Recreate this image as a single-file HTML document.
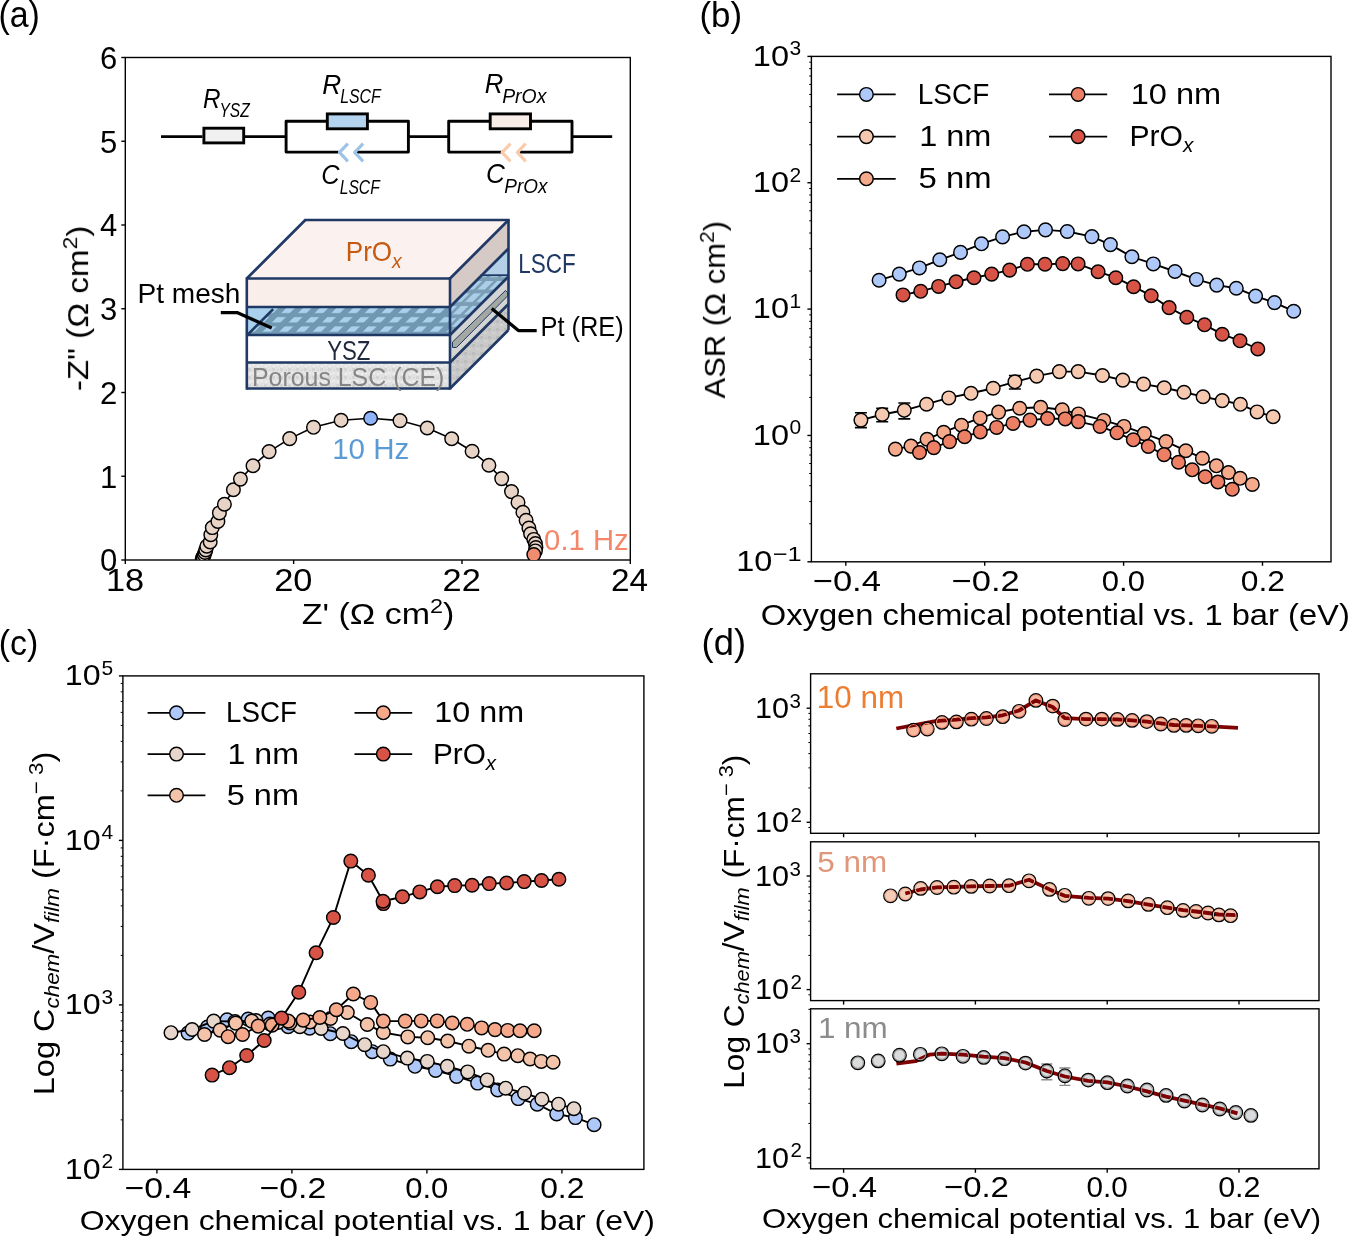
<!DOCTYPE html>
<html><head><meta charset="utf-8"><style>html,body{margin:0;padding:0;background:#fff;}svg{display:block;}</style></head>
<body><svg width="1348" height="1237" viewBox="0 0 1348 1237" font-family="Liberation Sans, sans-serif">
<rect width="1348" height="1237" fill="#fff"/>
<g style="opacity:0.999">
<text transform='translate(-1.59,26.50) scale(0.9425,1)' font-family='Liberation Sans, sans-serif' font-size='36' style='' font-weight='normal' fill='#000' >(a)</text>
<text transform='translate(699.46,26.60) scale(0.9700,1)' font-family='Liberation Sans, sans-serif' font-size='36' style='' font-weight='normal' fill='#000' >(b)</text>
<text transform='translate(-1.28,654.60) scale(0.9421,1)' font-family='Liberation Sans, sans-serif' font-size='36' style='' font-weight='normal' fill='#000' >(c)</text>
<text transform='translate(701.58,654.60) scale(1.0100,1)' font-family='Liberation Sans, sans-serif' font-size='36' style='' font-weight='normal' fill='#000' >(d)</text>
<defs><clipPath id='clipA'><rect x='125.3' y='57.5' width='505' height='502.5'/></clipPath></defs>
<rect x='125.3' y='57.5' width='505' height='502.5' fill='none' stroke='#000' stroke-width='1.4' />
<line x1='121.3' y1='560' x2='125.3' y2='560' stroke='#000' stroke-width='1.4' />
<text transform='translate(100.00,571.40) scale(1.0000,1)' font-family='Liberation Sans, sans-serif' font-size='31' style='' font-weight='normal' fill='#000' >0</text>
<line x1='121.3' y1='476.25' x2='125.3' y2='476.25' stroke='#000' stroke-width='1.4' />
<text transform='translate(100.00,487.65) scale(1.0000,1)' font-family='Liberation Sans, sans-serif' font-size='31' style='' font-weight='normal' fill='#000' >1</text>
<line x1='121.3' y1='392.5' x2='125.3' y2='392.5' stroke='#000' stroke-width='1.4' />
<text transform='translate(100.00,403.90) scale(1.0000,1)' font-family='Liberation Sans, sans-serif' font-size='31' style='' font-weight='normal' fill='#000' >2</text>
<line x1='121.3' y1='308.75' x2='125.3' y2='308.75' stroke='#000' stroke-width='1.4' />
<text transform='translate(100.00,320.15) scale(1.0000,1)' font-family='Liberation Sans, sans-serif' font-size='31' style='' font-weight='normal' fill='#000' >3</text>
<line x1='121.3' y1='225' x2='125.3' y2='225' stroke='#000' stroke-width='1.4' />
<text transform='translate(100.00,236.40) scale(1.0000,1)' font-family='Liberation Sans, sans-serif' font-size='31' style='' font-weight='normal' fill='#000' >4</text>
<line x1='121.3' y1='141.25' x2='125.3' y2='141.25' stroke='#000' stroke-width='1.4' />
<text transform='translate(100.00,152.65) scale(1.0000,1)' font-family='Liberation Sans, sans-serif' font-size='31' style='' font-weight='normal' fill='#000' >5</text>
<line x1='121.3' y1='57.5' x2='125.3' y2='57.5' stroke='#000' stroke-width='1.4' />
<text transform='translate(100.00,68.90) scale(1.0000,1)' font-family='Liberation Sans, sans-serif' font-size='31' style='' font-weight='normal' fill='#000' >6</text>
<line x1='125.3' y1='560' x2='125.3' y2='564' stroke='#000' stroke-width='1.4' />
<text transform='translate(105.88,590.50) scale(1.1097,1)' font-family='Liberation Sans, sans-serif' font-size='31' style='' font-weight='normal' fill='#000' >18</text>
<line x1='293.63' y1='560' x2='293.63' y2='564' stroke='#000' stroke-width='1.4' />
<text transform='translate(274.21,590.50) scale(1.1097,1)' font-family='Liberation Sans, sans-serif' font-size='31' style='' font-weight='normal' fill='#000' >20</text>
<line x1='461.97' y1='560' x2='461.97' y2='564' stroke='#000' stroke-width='1.4' />
<text transform='translate(442.55,590.50) scale(1.1097,1)' font-family='Liberation Sans, sans-serif' font-size='31' style='' font-weight='normal' fill='#000' >22</text>
<line x1='630.3' y1='560' x2='630.3' y2='564' stroke='#000' stroke-width='1.4' />
<text transform='translate(610.95,590.50) scale(1.0750,1)' font-family='Liberation Sans, sans-serif' font-size='31' style='' font-weight='normal' fill='#000' >24</text>
<text transform='translate(301.83,624.30) scale(1.1717,1)' font-family='Liberation Sans, sans-serif' font-size='29' style='' font-weight='normal' fill='#000' >Z' (&#937; cm<tspan dy='-11' font-size='20'>2</tspan><tspan dy='11'>)</tspan></text>
<text transform='translate(88.10,391.15) rotate(-90) scale(1.1458,1)' font-family='Liberation Sans, sans-serif' font-size='29' style='' font-weight='normal' fill='#000' >-Z" (&#937; cm<tspan dy='-11' font-size='20'>2</tspan><tspan dy='11'>)</tspan></text>
<line x1='161' y1='136.6' x2='202.5' y2='136.6' stroke='#000' stroke-width='2.9' />
<rect x='203.9' y='128.2' width='39.8' height='14.7' fill='#f0f0f0' stroke='#000' stroke-width='2.9' />
<line x1='245' y1='136.6' x2='286' y2='136.6' stroke='#000' stroke-width='2.9' />
<polyline points='327.3,121.2 286.1,121.2 286.1,152.1 338.6,152.1' fill='none' stroke='#000' stroke-width='2.9' stroke-linejoin='round' />
<polyline points='367.4,121.2 408.4,121.2 408.4,152.1 356.5,152.1' fill='none' stroke='#000' stroke-width='2.9' stroke-linejoin='round' />
<rect x='327.3' y='113.9' width='40.1' height='14.9' fill='#b4d3ee' stroke='#000' stroke-width='2.9' />
<polyline points='347.9,143.6 339.5,152.3 347.9,161.3' fill='none' stroke='#9dc3e6' stroke-width='3.2' stroke-linejoin='round' stroke-linejoin='miter'/>
<polyline points='363.1,143.6 354.7,152.3 363.1,161.3' fill='none' stroke='#9dc3e6' stroke-width='3.2' stroke-linejoin='round' stroke-linejoin='miter'/>
<line x1='408.4' y1='136.6' x2='448.7' y2='136.6' stroke='#000' stroke-width='2.9' />
<polyline points='490.2,121.2 448.7,121.2 448.7,152.1 501.6,152.1' fill='none' stroke='#000' stroke-width='2.9' stroke-linejoin='round' />
<polyline points='530.5,121.2 572,121.2 572,152.1 519.6,152.1' fill='none' stroke='#000' stroke-width='2.9' stroke-linejoin='round' />
<rect x='490.2' y='113.9' width='40.3' height='14.9' fill='#f9ede8' stroke='#000' stroke-width='2.9' />
<polyline points='510.5,143.6 502.1,152.3 510.5,161.3' fill='none' stroke='#f8cbad' stroke-width='3.2' stroke-linejoin='round' stroke-linejoin='miter'/>
<polyline points='525.7,143.6 517.3,152.3 525.7,161.3' fill='none' stroke='#f8cbad' stroke-width='3.2' stroke-linejoin='round' stroke-linejoin='miter'/>
<line x1='572' y1='136.6' x2='612.2' y2='136.6' stroke='#000' stroke-width='2.9' />
<text transform='translate(203.03,108.00) scale(0.8667,1)' font-family='Liberation Sans, sans-serif' font-size='28' style='font-style:italic;' font-weight='normal' fill='#000' >R</text>
<text transform='translate(219.44,117.00) scale(0.7789,1)' font-family='Liberation Sans, sans-serif' font-size='20' style='font-style:italic;' font-weight='normal' fill='#000' >YSZ</text>
<text transform='translate(322.16,93.70) scale(0.9389,1)' font-family='Liberation Sans, sans-serif' font-size='28' style='font-style:italic;' font-weight='normal' fill='#000' >R</text>
<text transform='translate(340.21,102.90) scale(0.7941,1)' font-family='Liberation Sans, sans-serif' font-size='20' style='font-style:italic;' font-weight='normal' fill='#000' >LSCF</text>
<text transform='translate(321.29,184.20) scale(0.9056,1)' font-family='Liberation Sans, sans-serif' font-size='28' style='font-style:italic;' font-weight='normal' fill='#000' >C</text>
<text transform='translate(339.72,193.90) scale(0.7824,1)' font-family='Liberation Sans, sans-serif' font-size='20' style='font-style:italic;' font-weight='normal' fill='#000' >LSCF</text>
<text transform='translate(484.68,93.20) scale(0.9167,1)' font-family='Liberation Sans, sans-serif' font-size='28' style='font-style:italic;' font-weight='normal' fill='#000' >R</text>
<text transform='translate(502.13,102.90) scale(0.9711,1)' font-family='Liberation Sans, sans-serif' font-size='20' style='font-style:italic;' font-weight='normal' fill='#000' >PrOx</text>
<text transform='translate(486.03,182.60) scale(0.9333,1)' font-family='Liberation Sans, sans-serif' font-size='28' style='font-style:italic;' font-weight='normal' fill='#000' >C</text>
<text transform='translate(504.25,192.80) scale(0.9467,1)' font-family='Liberation Sans, sans-serif' font-size='20' style='font-style:italic;' font-weight='normal' fill='#000' >PrOx</text>
<defs>
<pattern id='mesh' patternUnits='userSpaceOnUse' width='16.7' height='9.33' patternTransform='translate(3,307.4) skewX(-45)'>
<rect width='16.7' height='9.33' fill='#7099b1'/>
<rect x='0' y='0.3' width='8.6' height='5.4' fill='#a9d0ec'/>
</pattern>
<pattern id='meshS' patternUnits='userSpaceOnUse' width='11.3' height='12.4' patternTransform='translate(0,281) skewX(-45)'>
<rect width='11.3' height='12.4' fill='#7b9db5'/>
<rect x='0' y='0' width='7.6' height='8.6' fill='#aacde8'/>
</pattern>
<pattern id='noise' patternUnits='userSpaceOnUse' width='8' height='8'>
<rect width='8' height='8' fill='#e2e2e2'/>
<rect x='0' y='0' width='3' height='3' fill='#d4d4d4'/>
<rect x='4' y='4' width='3' height='2' fill='#ececec'/>
<rect x='5' y='1' width='2' height='2' fill='#d9d9d9'/>
<rect x='1' y='5' width='2' height='2' fill='#efefef'/>
</pattern>
<pattern id='noiseS' patternUnits='userSpaceOnUse' width='8' height='8'>
<rect width='8' height='8' fill='#c9c9c9'/>
<rect x='0' y='0' width='3' height='3' fill='#bcbcbc'/>
<rect x='4' y='4' width='3' height='2' fill='#d3d3d3'/>
<rect x='5' y='1' width='2' height='2' fill='#c2c2c2'/>
</pattern>
</defs>
<polygon points='246.8,278.5 305.3,220 508.5,220 450,278.5' fill='#fbf1ee' stroke='none' stroke-width='1' stroke-linejoin='miter' />
<rect x='246.8' y='278.5' width='203.2' height='28.5' fill='#f9eeea' stroke='none' stroke-width='1' />
<rect x='246.8' y='307' width='203.2' height='28' fill='url(#mesh)' stroke='none' stroke-width='1' />
<polygon points='246.8,307 273.8,307 246.8,335' fill='#a9d0ec' stroke='none' stroke-width='1' stroke-linejoin='miter' />
<rect x='246.8' y='335' width='203.2' height='27.5' fill='#ffffff' stroke='none' stroke-width='1' />
<rect x='246.8' y='362.5' width='203.2' height='26' fill='url(#noise)' stroke='none' stroke-width='1' />
<polygon points='450,278.5 508.5,220 508.5,248.5 450,307' fill='#d6cac7' stroke='none' stroke-width='1' stroke-linejoin='miter' />
<polygon points='450,307 508.5,248.5 508.5,276.5 450,335' fill='url(#meshS)' stroke='none' stroke-width='1' stroke-linejoin='miter' />
<polygon points='480.7,275.2 508.5,248.5 508.5,275.2' fill='#b4d0e8' stroke='none' stroke-width='1' stroke-linejoin='miter' />
<line x1='480.7' y1='275.2' x2='508.5' y2='275.2' stroke='#1f3864' stroke-width='1.8' />
<polygon points='450,335 508.5,276.5 508.5,304 450,362.5' fill='#d4d4d4' stroke='none' stroke-width='1' stroke-linejoin='miter' />
<polygon points='450,362.5 508.5,304 508.5,330 450,388.5' fill='url(#noiseS)' stroke='none' stroke-width='1' stroke-linejoin='miter' />
<polygon points='452.5,347.5 452.5,342 505.5,290.5 507.5,292.5 507.5,296 456.5,347.5' fill='#a3a8a3' stroke='#1f3864' stroke-width='1.0' stroke-linejoin='miter' />
<line x1='246.8' y1='278.5' x2='450' y2='278.5' stroke='#1f3864' stroke-width='2.6' />
<line x1='246.8' y1='307' x2='450' y2='307' stroke='#1f3864' stroke-width='2.6' />
<line x1='246.8' y1='335' x2='450' y2='335' stroke='#1f3864' stroke-width='2.6' />
<line x1='246.8' y1='362.5' x2='450' y2='362.5' stroke='#1f3864' stroke-width='2.6' />
<line x1='246.8' y1='388.5' x2='450' y2='388.5' stroke='#1f3864' stroke-width='2.6' />
<line x1='246.8' y1='277.3' x2='246.8' y2='389.7' stroke='#1f3864' stroke-width='2.6' />
<line x1='450' y1='277.3' x2='450' y2='389.7' stroke='#1f3864' stroke-width='2.6' />
<line x1='246.8' y1='278.5' x2='305.3' y2='220' stroke='#1f3864' stroke-width='2.6' />
<line x1='304.3' y1='220' x2='509.7' y2='220' stroke='#1f3864' stroke-width='2.6' />
<line x1='508.5' y1='220' x2='508.5' y2='330' stroke='#1f3864' stroke-width='2.6' />
<line x1='450' y1='278.5' x2='508.5' y2='220' stroke='#1f3864' stroke-width='2.6' />
<line x1='450' y1='307' x2='508.5' y2='248.5' stroke='#1f3864' stroke-width='2.6' />
<line x1='450' y1='335' x2='508.5' y2='276.5' stroke='#1f3864' stroke-width='2.6' />
<line x1='450' y1='362.5' x2='508.5' y2='304' stroke='#1f3864' stroke-width='2.6' />
<line x1='450' y1='388.5' x2='508.5' y2='330' stroke='#1f3864' stroke-width='2.6' />
<line x1='248.2' y1='334.2' x2='273.2' y2='309.2' stroke='#1f3864' stroke-width='2.6' />
<text transform='translate(345.77,261.00) scale(0.9643,1)' font-family='Liberation Sans, sans-serif' font-size='27' style='' font-weight='normal' fill='#c55a11' >PrO<tspan font-style='italic' font-size='20' dy='7'>x</tspan></text>
<text transform='translate(518.33,272.50) scale(0.8333,1)' font-family='Liberation Sans, sans-serif' font-size='27' style='' font-weight='normal' fill='#1f3864' >LSCF</text>
<text transform='translate(137.52,303.00) scale(1.0389,1)' font-family='Liberation Sans, sans-serif' font-size='27' style='' font-weight='normal' fill='#000' >Pt mesh</text>
<text transform='translate(540.42,335.60) scale(0.9424,1)' font-family='Liberation Sans, sans-serif' font-size='27' style='' font-weight='normal' fill='#000' >Pt (RE)</text>
<text transform='translate(327.18,359.70) scale(0.8235,1)' font-family='Liberation Sans, sans-serif' font-size='27' style='' font-weight='normal' fill='#1f2a3c' >YSZ</text>
<text transform='translate(251.91,385.80) scale(0.9968,1)' font-family='Liberation Sans, sans-serif' font-size='25' style='' font-weight='normal' fill='#858585' >Porous LSC (CE)</text>
<polyline points='220.8,312.7 237.6,312.7 271.7,328' fill='none' stroke='#000' stroke-width='3.3' stroke-linejoin='round' stroke-linejoin='miter'/>
<polyline points='491.7,308.4 518.4,330.6 536.7,330.6' fill='none' stroke='#000' stroke-width='3.3' stroke-linejoin='round' stroke-linejoin='miter'/>
<g clip-path='url(#clipA)'>
<polyline points='202.3,558.3 203.1,556.8 204.2,554.7 205,552.5 205.8,549.9 206.8,546.2 210.2,542 210.8,534.7 212.3,527.6 217.9,521.5 219.4,512.9 224.4,504.2 233.4,489.7 240.4,479.1 253,465.7 269.1,451.6 289.7,438.6 313.5,427.3 341.1,420.3 370.6,418.2 400,420.6 427.2,428 451.7,438.7 472.1,451.3 488.9,465.2 501.7,478.6 511.5,491.6 518,502.4 522.9,512.2 526.1,520.3 528.9,528 530.6,533.7 533.8,539.4 535.4,543.5 535.9,547.6 535.4,550.9 533.8,554.6' fill='none' stroke='#000' stroke-width='1.6' stroke-linejoin='round' />
<circle cx='202.3' cy='558.3' r='6.8' fill='#e8d4c7' stroke='#000' stroke-width='1.45' />
<circle cx='203.1' cy='556.8' r='6.8' fill='#e8d4c7' stroke='#000' stroke-width='1.45' />
<circle cx='204.2' cy='554.7' r='6.8' fill='#e8d4c7' stroke='#000' stroke-width='1.45' />
<circle cx='205' cy='552.5' r='6.8' fill='#e8d4c7' stroke='#000' stroke-width='1.45' />
<circle cx='205.8' cy='549.9' r='6.8' fill='#e8d4c7' stroke='#000' stroke-width='1.45' />
<circle cx='206.8' cy='546.2' r='6.8' fill='#e8d4c7' stroke='#000' stroke-width='1.45' />
<circle cx='210.2' cy='542' r='6.8' fill='#e8d4c7' stroke='#000' stroke-width='1.45' />
<circle cx='210.8' cy='534.7' r='6.8' fill='#e8d4c7' stroke='#000' stroke-width='1.45' />
<circle cx='212.3' cy='527.6' r='6.8' fill='#e8d4c7' stroke='#000' stroke-width='1.45' />
<circle cx='217.9' cy='521.5' r='6.8' fill='#e8d4c7' stroke='#000' stroke-width='1.45' />
<circle cx='219.4' cy='512.9' r='6.8' fill='#e8d4c7' stroke='#000' stroke-width='1.45' />
<circle cx='224.4' cy='504.2' r='6.8' fill='#e8d4c7' stroke='#000' stroke-width='1.45' />
<circle cx='233.4' cy='489.7' r='6.8' fill='#e8d4c7' stroke='#000' stroke-width='1.45' />
<circle cx='240.4' cy='479.1' r='6.8' fill='#e8d4c7' stroke='#000' stroke-width='1.45' />
<circle cx='253' cy='465.7' r='6.8' fill='#e8d4c7' stroke='#000' stroke-width='1.45' />
<circle cx='269.1' cy='451.6' r='6.8' fill='#e8d4c7' stroke='#000' stroke-width='1.45' />
<circle cx='289.7' cy='438.6' r='6.8' fill='#e8d4c7' stroke='#000' stroke-width='1.45' />
<circle cx='313.5' cy='427.3' r='6.8' fill='#e8d4c7' stroke='#000' stroke-width='1.45' />
<circle cx='341.1' cy='420.3' r='6.8' fill='#e8d4c7' stroke='#000' stroke-width='1.45' />
<circle cx='370.6' cy='418.2' r='6.8' fill='#8fb3f9' stroke='#000' stroke-width='1.45' />
<circle cx='400' cy='420.6' r='6.8' fill='#e8d4c7' stroke='#000' stroke-width='1.45' />
<circle cx='427.2' cy='428' r='6.8' fill='#e8d4c7' stroke='#000' stroke-width='1.45' />
<circle cx='451.7' cy='438.7' r='6.8' fill='#e8d4c7' stroke='#000' stroke-width='1.45' />
<circle cx='472.1' cy='451.3' r='6.8' fill='#e8d4c7' stroke='#000' stroke-width='1.45' />
<circle cx='488.9' cy='465.2' r='6.8' fill='#e8d4c7' stroke='#000' stroke-width='1.45' />
<circle cx='501.7' cy='478.6' r='6.8' fill='#e8d4c7' stroke='#000' stroke-width='1.45' />
<circle cx='511.5' cy='491.6' r='6.8' fill='#e8d4c7' stroke='#000' stroke-width='1.45' />
<circle cx='518' cy='502.4' r='6.8' fill='#e8d4c7' stroke='#000' stroke-width='1.45' />
<circle cx='522.9' cy='512.2' r='6.8' fill='#e8d4c7' stroke='#000' stroke-width='1.45' />
<circle cx='526.1' cy='520.3' r='6.8' fill='#e8d4c7' stroke='#000' stroke-width='1.45' />
<circle cx='528.9' cy='528' r='6.8' fill='#e8d4c7' stroke='#000' stroke-width='1.45' />
<circle cx='530.6' cy='533.7' r='6.8' fill='#e8d4c7' stroke='#000' stroke-width='1.45' />
<circle cx='533.8' cy='539.4' r='6.8' fill='#e8d4c7' stroke='#000' stroke-width='1.45' />
<circle cx='535.4' cy='543.5' r='6.8' fill='#e8d4c7' stroke='#000' stroke-width='1.45' />
<circle cx='535.9' cy='547.6' r='6.8' fill='#e8d4c7' stroke='#000' stroke-width='1.45' />
<circle cx='535.4' cy='550.9' r='6.8' fill='#e8d4c7' stroke='#000' stroke-width='1.45' />
<circle cx='533.8' cy='554.6' r='6.8' fill='#f08c70' stroke='#000' stroke-width='1.45' />
</g>
<text transform='translate(332.16,459.00) scale(1.0181,1)' font-family='Liberation Sans, sans-serif' font-size='29' style='' font-weight='normal' fill='#5b9bd5' >10 Hz</text>
<text transform='translate(544.12,550.30) scale(0.9750,1)' font-family='Liberation Sans, sans-serif' font-size='30' style='' font-weight='normal' fill='#f4876a' >0.1 Hz</text>
<defs><clipPath id='clipB'><rect x='811.4' y='56.4' width='519.6' height='505.4'/></clipPath></defs>
<line x1='807.4' y1='561.8' x2='811.4' y2='561.8' stroke='#000' stroke-width='1.4' />
<line x1='809.2' y1='523.76' x2='811.4' y2='523.76' stroke='#000' stroke-width='1.0' />
<line x1='809.2' y1='501.52' x2='811.4' y2='501.52' stroke='#000' stroke-width='1.0' />
<line x1='809.2' y1='485.73' x2='811.4' y2='485.73' stroke='#000' stroke-width='1.0' />
<line x1='809.2' y1='473.49' x2='811.4' y2='473.49' stroke='#000' stroke-width='1.0' />
<line x1='809.2' y1='463.48' x2='811.4' y2='463.48' stroke='#000' stroke-width='1.0' />
<line x1='809.2' y1='455.02' x2='811.4' y2='455.02' stroke='#000' stroke-width='1.0' />
<line x1='809.2' y1='447.69' x2='811.4' y2='447.69' stroke='#000' stroke-width='1.0' />
<line x1='809.2' y1='441.23' x2='811.4' y2='441.23' stroke='#000' stroke-width='1.0' />
<line x1='807.4' y1='435.45' x2='811.4' y2='435.45' stroke='#000' stroke-width='1.4' />
<line x1='809.2' y1='397.41' x2='811.4' y2='397.41' stroke='#000' stroke-width='1.0' />
<line x1='809.2' y1='375.17' x2='811.4' y2='375.17' stroke='#000' stroke-width='1.0' />
<line x1='809.2' y1='359.38' x2='811.4' y2='359.38' stroke='#000' stroke-width='1.0' />
<line x1='809.2' y1='347.14' x2='811.4' y2='347.14' stroke='#000' stroke-width='1.0' />
<line x1='809.2' y1='337.13' x2='811.4' y2='337.13' stroke='#000' stroke-width='1.0' />
<line x1='809.2' y1='328.67' x2='811.4' y2='328.67' stroke='#000' stroke-width='1.0' />
<line x1='809.2' y1='321.34' x2='811.4' y2='321.34' stroke='#000' stroke-width='1.0' />
<line x1='809.2' y1='314.88' x2='811.4' y2='314.88' stroke='#000' stroke-width='1.0' />
<line x1='807.4' y1='309.1' x2='811.4' y2='309.1' stroke='#000' stroke-width='1.4' />
<line x1='809.2' y1='271.06' x2='811.4' y2='271.06' stroke='#000' stroke-width='1.0' />
<line x1='809.2' y1='248.82' x2='811.4' y2='248.82' stroke='#000' stroke-width='1.0' />
<line x1='809.2' y1='233.03' x2='811.4' y2='233.03' stroke='#000' stroke-width='1.0' />
<line x1='809.2' y1='220.79' x2='811.4' y2='220.79' stroke='#000' stroke-width='1.0' />
<line x1='809.2' y1='210.78' x2='811.4' y2='210.78' stroke='#000' stroke-width='1.0' />
<line x1='809.2' y1='202.32' x2='811.4' y2='202.32' stroke='#000' stroke-width='1.0' />
<line x1='809.2' y1='194.99' x2='811.4' y2='194.99' stroke='#000' stroke-width='1.0' />
<line x1='809.2' y1='188.53' x2='811.4' y2='188.53' stroke='#000' stroke-width='1.0' />
<line x1='807.4' y1='182.75' x2='811.4' y2='182.75' stroke='#000' stroke-width='1.4' />
<line x1='809.2' y1='144.71' x2='811.4' y2='144.71' stroke='#000' stroke-width='1.0' />
<line x1='809.2' y1='122.47' x2='811.4' y2='122.47' stroke='#000' stroke-width='1.0' />
<line x1='809.2' y1='106.68' x2='811.4' y2='106.68' stroke='#000' stroke-width='1.0' />
<line x1='809.2' y1='94.44' x2='811.4' y2='94.44' stroke='#000' stroke-width='1.0' />
<line x1='809.2' y1='84.43' x2='811.4' y2='84.43' stroke='#000' stroke-width='1.0' />
<line x1='809.2' y1='75.97' x2='811.4' y2='75.97' stroke='#000' stroke-width='1.0' />
<line x1='809.2' y1='68.64' x2='811.4' y2='68.64' stroke='#000' stroke-width='1.0' />
<line x1='809.2' y1='62.18' x2='811.4' y2='62.18' stroke='#000' stroke-width='1.0' />
<line x1='807.4' y1='56.4' x2='811.4' y2='56.4' stroke='#000' stroke-width='1.4' />
<text transform='translate(736.14,570.80) scale(1.0800,1)' font-family='Liberation Sans, sans-serif' font-size='30' style='' font-weight='normal' fill='#000' >10</text>
<text transform='translate(772.79,560.50) scale(1.2091,1)' font-family='Liberation Sans, sans-serif' font-size='21' style='' font-weight='normal' fill='#000' >&#8722;1</text>
<text transform='translate(752.83,444.65) scale(1.0833,1)' font-family='Liberation Sans, sans-serif' font-size='30' style='' font-weight='normal' fill='#000' >10</text>
<text transform='translate(789.50,434.25) scale(1.0000,1)' font-family='Liberation Sans, sans-serif' font-size='21' style='' font-weight='normal' fill='#000' >0</text>
<text transform='translate(752.83,318.30) scale(1.0833,1)' font-family='Liberation Sans, sans-serif' font-size='30' style='' font-weight='normal' fill='#000' >10</text>
<text transform='translate(789.50,307.90) scale(1.0000,1)' font-family='Liberation Sans, sans-serif' font-size='21' style='' font-weight='normal' fill='#000' >1</text>
<text transform='translate(752.83,191.95) scale(1.0833,1)' font-family='Liberation Sans, sans-serif' font-size='30' style='' font-weight='normal' fill='#000' >10</text>
<text transform='translate(789.50,181.55) scale(1.0000,1)' font-family='Liberation Sans, sans-serif' font-size='21' style='' font-weight='normal' fill='#000' >2</text>
<text transform='translate(752.83,65.60) scale(1.0833,1)' font-family='Liberation Sans, sans-serif' font-size='30' style='' font-weight='normal' fill='#000' >10</text>
<text transform='translate(789.50,55.20) scale(1.0000,1)' font-family='Liberation Sans, sans-serif' font-size='21' style='' font-weight='normal' fill='#000' >3</text>
<line x1='845.8' y1='561.8' x2='845.8' y2='565.8' stroke='#000' stroke-width='1.4' />
<line x1='984.7' y1='561.8' x2='984.7' y2='565.8' stroke='#000' stroke-width='1.4' />
<line x1='1123.6' y1='561.8' x2='1123.6' y2='565.8' stroke='#000' stroke-width='1.4' />
<line x1='1262.5' y1='561.8' x2='1262.5' y2='565.8' stroke='#000' stroke-width='1.4' />
<text transform='translate(812.70,590.50) scale(1.1526,1)' font-family='Liberation Sans, sans-serif' font-size='30' style='' font-weight='normal' fill='#000' >&#8722;0.4</text>
<text transform='translate(951.60,590.50) scale(1.1526,1)' font-family='Liberation Sans, sans-serif' font-size='30' style='' font-weight='normal' fill='#000' >&#8722;0.2</text>
<text transform='translate(1101.86,590.50) scale(1.0350,1)' font-family='Liberation Sans, sans-serif' font-size='30' style='' font-weight='normal' fill='#000' >0.0</text>
<text transform='translate(1240.74,590.50) scale(1.0615,1)' font-family='Liberation Sans, sans-serif' font-size='30' style='' font-weight='normal' fill='#000' >0.2</text>
<text transform='translate(760.77,625.40) scale(1.1283,1)' font-family='Liberation Sans, sans-serif' font-size='29' style='' font-weight='normal' fill='#000' >Oxygen chemical potential vs. 1 bar (eV)</text>
<text transform='translate(724.90,398.50) rotate(-90) scale(1.0500,1)' font-family='Liberation Sans, sans-serif' font-size='29.5' style='' font-weight='normal' fill='#000' >ASR (&#937; cm<tspan dy='-11' font-size='20'>2</tspan><tspan dy='11'>)</tspan></text>
<g clip-path='url(#clipB)'>
<line x1='860.9' y1='412.8' x2='860.9' y2='427.6' stroke='#000' stroke-width='1.6' />
<line x1='854.9' y1='412.8' x2='866.9' y2='412.8' stroke='#000' stroke-width='1.6' />
<line x1='854.9' y1='427.6' x2='866.9' y2='427.6' stroke='#000' stroke-width='1.6' />
<line x1='882.2' y1='408.2' x2='882.2' y2='421.8' stroke='#000' stroke-width='1.6' />
<line x1='876.2' y1='408.2' x2='888.2' y2='408.2' stroke='#000' stroke-width='1.6' />
<line x1='876.2' y1='421.8' x2='888.2' y2='421.8' stroke='#000' stroke-width='1.6' />
<line x1='904.3' y1='403' x2='904.3' y2='418.9' stroke='#000' stroke-width='1.6' />
<line x1='898.3' y1='403' x2='910.3' y2='403' stroke='#000' stroke-width='1.6' />
<line x1='898.3' y1='418.9' x2='910.3' y2='418.9' stroke='#000' stroke-width='1.6' />
<line x1='1014.9' y1='375.5' x2='1014.9' y2='389' stroke='#000' stroke-width='1.6' />
<line x1='1008.9' y1='375.5' x2='1020.9' y2='375.5' stroke='#000' stroke-width='1.6' />
<line x1='1008.9' y1='389' x2='1020.9' y2='389' stroke='#000' stroke-width='1.6' />
<polyline points='860.9,420.1 882.2,414.5 904.3,410.3 926.6,404.2 948.8,397.9 971,393.3 993.2,388.2 1014.9,381.8 1036.7,376.1 1059.4,371.6 1078.2,371.6 1102.4,375.5 1122.8,380.1 1143.5,384.1 1164.2,387.8 1184,392.2 1203.1,396.7 1222.2,400.6 1240.4,404.3 1257.1,411.9 1273.1,416.7' fill='none' stroke='#000' stroke-width='1.9' stroke-linejoin='round' />
<circle cx='860.9' cy='420.1' r='6.8' fill='#f5c8af' stroke='#000' stroke-width='1.45' />
<circle cx='882.2' cy='414.5' r='6.8' fill='#f5c8af' stroke='#000' stroke-width='1.45' />
<circle cx='904.3' cy='410.3' r='6.8' fill='#f5c8af' stroke='#000' stroke-width='1.45' />
<circle cx='926.6' cy='404.2' r='6.8' fill='#f5c8af' stroke='#000' stroke-width='1.45' />
<circle cx='948.8' cy='397.9' r='6.8' fill='#f5c8af' stroke='#000' stroke-width='1.45' />
<circle cx='971' cy='393.3' r='6.8' fill='#f5c8af' stroke='#000' stroke-width='1.45' />
<circle cx='993.2' cy='388.2' r='6.8' fill='#f5c8af' stroke='#000' stroke-width='1.45' />
<circle cx='1014.9' cy='381.8' r='6.8' fill='#f5c8af' stroke='#000' stroke-width='1.45' />
<circle cx='1036.7' cy='376.1' r='6.8' fill='#f5c8af' stroke='#000' stroke-width='1.45' />
<circle cx='1059.4' cy='371.6' r='6.8' fill='#f5c8af' stroke='#000' stroke-width='1.45' />
<circle cx='1078.2' cy='371.6' r='6.8' fill='#f5c8af' stroke='#000' stroke-width='1.45' />
<circle cx='1102.4' cy='375.5' r='6.8' fill='#f5c8af' stroke='#000' stroke-width='1.45' />
<circle cx='1122.8' cy='380.1' r='6.8' fill='#f5c8af' stroke='#000' stroke-width='1.45' />
<circle cx='1143.5' cy='384.1' r='6.8' fill='#f5c8af' stroke='#000' stroke-width='1.45' />
<circle cx='1164.2' cy='387.8' r='6.8' fill='#f5c8af' stroke='#000' stroke-width='1.45' />
<circle cx='1184' cy='392.2' r='6.8' fill='#f5c8af' stroke='#000' stroke-width='1.45' />
<circle cx='1203.1' cy='396.7' r='6.8' fill='#f5c8af' stroke='#000' stroke-width='1.45' />
<circle cx='1222.2' cy='400.6' r='6.8' fill='#f5c8af' stroke='#000' stroke-width='1.45' />
<circle cx='1240.4' cy='404.3' r='6.8' fill='#f5c8af' stroke='#000' stroke-width='1.45' />
<circle cx='1257.1' cy='411.9' r='6.8' fill='#f5c8af' stroke='#000' stroke-width='1.45' />
<circle cx='1273.1' cy='416.7' r='6.8' fill='#f5c8af' stroke='#000' stroke-width='1.45' />
<polyline points='895.4,449.1 911,446.1 927.1,439.2 943.7,432.2 961.5,425.2 980.1,417.9 998.6,412.1 1019.7,408.2 1040.7,407.3 1062.2,409.7 1078.5,413.9 1103.8,420.4 1124,426.4 1144.3,433.6 1166,441.6 1185.8,450.7 1202.4,458.2 1216.4,465.8 1228.5,472.5 1240.1,478.3 1252.3,484.4' fill='none' stroke='#000' stroke-width='1.9' stroke-linejoin='round' />
<circle cx='895.4' cy='449.1' r='6.8' fill='#f6aa8c' stroke='#000' stroke-width='1.45' />
<circle cx='911' cy='446.1' r='6.8' fill='#f6aa8c' stroke='#000' stroke-width='1.45' />
<circle cx='927.1' cy='439.2' r='6.8' fill='#f6aa8c' stroke='#000' stroke-width='1.45' />
<circle cx='943.7' cy='432.2' r='6.8' fill='#f6aa8c' stroke='#000' stroke-width='1.45' />
<circle cx='961.5' cy='425.2' r='6.8' fill='#f6aa8c' stroke='#000' stroke-width='1.45' />
<circle cx='980.1' cy='417.9' r='6.8' fill='#f6aa8c' stroke='#000' stroke-width='1.45' />
<circle cx='998.6' cy='412.1' r='6.8' fill='#f6aa8c' stroke='#000' stroke-width='1.45' />
<circle cx='1019.7' cy='408.2' r='6.8' fill='#f6aa8c' stroke='#000' stroke-width='1.45' />
<circle cx='1040.7' cy='407.3' r='6.8' fill='#f6aa8c' stroke='#000' stroke-width='1.45' />
<circle cx='1062.2' cy='409.7' r='6.8' fill='#f6aa8c' stroke='#000' stroke-width='1.45' />
<circle cx='1078.5' cy='413.9' r='6.8' fill='#f6aa8c' stroke='#000' stroke-width='1.45' />
<circle cx='1103.8' cy='420.4' r='6.8' fill='#f6aa8c' stroke='#000' stroke-width='1.45' />
<circle cx='1124' cy='426.4' r='6.8' fill='#f6aa8c' stroke='#000' stroke-width='1.45' />
<circle cx='1144.3' cy='433.6' r='6.8' fill='#f6aa8c' stroke='#000' stroke-width='1.45' />
<circle cx='1166' cy='441.6' r='6.8' fill='#f6aa8c' stroke='#000' stroke-width='1.45' />
<circle cx='1185.8' cy='450.7' r='6.8' fill='#f6aa8c' stroke='#000' stroke-width='1.45' />
<circle cx='1202.4' cy='458.2' r='6.8' fill='#f6aa8c' stroke='#000' stroke-width='1.45' />
<circle cx='1216.4' cy='465.8' r='6.8' fill='#f6aa8c' stroke='#000' stroke-width='1.45' />
<circle cx='1228.5' cy='472.5' r='6.8' fill='#f6aa8c' stroke='#000' stroke-width='1.45' />
<circle cx='1240.1' cy='478.3' r='6.8' fill='#f6aa8c' stroke='#000' stroke-width='1.45' />
<circle cx='1252.3' cy='484.4' r='6.8' fill='#f6aa8c' stroke='#000' stroke-width='1.45' />
<polyline points='919.5,452.5 933.8,447.6 949.5,441.6 964.6,436.7 980.3,431.9 996.6,427.4 1013,423.4 1030,420.1 1047.6,418.5 1065.2,418.9 1078.3,421.6 1100.1,426.4 1117,432.8 1133.3,439.8 1148.3,446.5 1164,454.6 1178.5,462.2 1192.2,469.8 1205.2,476.8 1217.9,482 1232.3,489.3' fill='none' stroke='#000' stroke-width='1.9' stroke-linejoin='round' />
<circle cx='919.5' cy='452.5' r='6.8' fill='#ec7f64' stroke='#000' stroke-width='1.45' />
<circle cx='933.8' cy='447.6' r='6.8' fill='#ec7f64' stroke='#000' stroke-width='1.45' />
<circle cx='949.5' cy='441.6' r='6.8' fill='#ec7f64' stroke='#000' stroke-width='1.45' />
<circle cx='964.6' cy='436.7' r='6.8' fill='#ec7f64' stroke='#000' stroke-width='1.45' />
<circle cx='980.3' cy='431.9' r='6.8' fill='#ec7f64' stroke='#000' stroke-width='1.45' />
<circle cx='996.6' cy='427.4' r='6.8' fill='#ec7f64' stroke='#000' stroke-width='1.45' />
<circle cx='1013' cy='423.4' r='6.8' fill='#ec7f64' stroke='#000' stroke-width='1.45' />
<circle cx='1030' cy='420.1' r='6.8' fill='#ec7f64' stroke='#000' stroke-width='1.45' />
<circle cx='1047.6' cy='418.5' r='6.8' fill='#ec7f64' stroke='#000' stroke-width='1.45' />
<circle cx='1065.2' cy='418.9' r='6.8' fill='#ec7f64' stroke='#000' stroke-width='1.45' />
<circle cx='1078.3' cy='421.6' r='6.8' fill='#ec7f64' stroke='#000' stroke-width='1.45' />
<circle cx='1100.1' cy='426.4' r='6.8' fill='#ec7f64' stroke='#000' stroke-width='1.45' />
<circle cx='1117' cy='432.8' r='6.8' fill='#ec7f64' stroke='#000' stroke-width='1.45' />
<circle cx='1133.3' cy='439.8' r='6.8' fill='#ec7f64' stroke='#000' stroke-width='1.45' />
<circle cx='1148.3' cy='446.5' r='6.8' fill='#ec7f64' stroke='#000' stroke-width='1.45' />
<circle cx='1164' cy='454.6' r='6.8' fill='#ec7f64' stroke='#000' stroke-width='1.45' />
<circle cx='1178.5' cy='462.2' r='6.8' fill='#ec7f64' stroke='#000' stroke-width='1.45' />
<circle cx='1192.2' cy='469.8' r='6.8' fill='#ec7f64' stroke='#000' stroke-width='1.45' />
<circle cx='1205.2' cy='476.8' r='6.8' fill='#ec7f64' stroke='#000' stroke-width='1.45' />
<circle cx='1217.9' cy='482' r='6.8' fill='#ec7f64' stroke='#000' stroke-width='1.45' />
<circle cx='1232.3' cy='489.3' r='6.8' fill='#ec7f64' stroke='#000' stroke-width='1.45' />
<polyline points='879.1,280.2 899.3,274.1 919.4,267.9 939.8,259.8 960.5,252.4 981.5,243.8 1002.6,236.9 1024,231.7 1045.5,229.9 1067.3,231.5 1091.9,236.6 1110.4,244.6 1131.9,256.8 1153.3,263.9 1175,271.5 1196.4,279.4 1216.7,285.1 1236.3,288.2 1255.6,296.1 1274.5,302.6 1293.7,311.2' fill='none' stroke='#000' stroke-width='1.9' stroke-linejoin='round' />
<circle cx='879.1' cy='280.2' r='6.8' fill='#aec9f9' stroke='#000' stroke-width='1.45' />
<circle cx='899.3' cy='274.1' r='6.8' fill='#aec9f9' stroke='#000' stroke-width='1.45' />
<circle cx='919.4' cy='267.9' r='6.8' fill='#aec9f9' stroke='#000' stroke-width='1.45' />
<circle cx='939.8' cy='259.8' r='6.8' fill='#aec9f9' stroke='#000' stroke-width='1.45' />
<circle cx='960.5' cy='252.4' r='6.8' fill='#aec9f9' stroke='#000' stroke-width='1.45' />
<circle cx='981.5' cy='243.8' r='6.8' fill='#aec9f9' stroke='#000' stroke-width='1.45' />
<circle cx='1002.6' cy='236.9' r='6.8' fill='#aec9f9' stroke='#000' stroke-width='1.45' />
<circle cx='1024' cy='231.7' r='6.8' fill='#aec9f9' stroke='#000' stroke-width='1.45' />
<circle cx='1045.5' cy='229.9' r='6.8' fill='#aec9f9' stroke='#000' stroke-width='1.45' />
<circle cx='1067.3' cy='231.5' r='6.8' fill='#aec9f9' stroke='#000' stroke-width='1.45' />
<circle cx='1091.9' cy='236.6' r='6.8' fill='#aec9f9' stroke='#000' stroke-width='1.45' />
<circle cx='1110.4' cy='244.6' r='6.8' fill='#aec9f9' stroke='#000' stroke-width='1.45' />
<circle cx='1131.9' cy='256.8' r='6.8' fill='#aec9f9' stroke='#000' stroke-width='1.45' />
<circle cx='1153.3' cy='263.9' r='6.8' fill='#aec9f9' stroke='#000' stroke-width='1.45' />
<circle cx='1175' cy='271.5' r='6.8' fill='#aec9f9' stroke='#000' stroke-width='1.45' />
<circle cx='1196.4' cy='279.4' r='6.8' fill='#aec9f9' stroke='#000' stroke-width='1.45' />
<circle cx='1216.7' cy='285.1' r='6.8' fill='#aec9f9' stroke='#000' stroke-width='1.45' />
<circle cx='1236.3' cy='288.2' r='6.8' fill='#aec9f9' stroke='#000' stroke-width='1.45' />
<circle cx='1255.6' cy='296.1' r='6.8' fill='#aec9f9' stroke='#000' stroke-width='1.45' />
<circle cx='1274.5' cy='302.6' r='6.8' fill='#aec9f9' stroke='#000' stroke-width='1.45' />
<circle cx='1293.7' cy='311.2' r='6.8' fill='#aec9f9' stroke='#000' stroke-width='1.45' />
<polyline points='903,294.9 920.7,291.3 938.6,286.4 956.1,281.8 974,277.7 991.7,274.1 1009.6,270.1 1027.4,264.3 1045,264.2 1062.7,263.6 1078.1,263.9 1098.1,271.7 1115.8,277.7 1133.6,286.7 1151.2,295.7 1169.1,307.6 1186.8,317.2 1204.5,324.8 1222.2,334.2 1240,340.8 1257.8,349' fill='none' stroke='#000' stroke-width='1.9' stroke-linejoin='round' />
<circle cx='903' cy='294.9' r='6.8' fill='#d65345' stroke='#000' stroke-width='1.45' />
<circle cx='920.7' cy='291.3' r='6.8' fill='#d65345' stroke='#000' stroke-width='1.45' />
<circle cx='938.6' cy='286.4' r='6.8' fill='#d65345' stroke='#000' stroke-width='1.45' />
<circle cx='956.1' cy='281.8' r='6.8' fill='#d65345' stroke='#000' stroke-width='1.45' />
<circle cx='974' cy='277.7' r='6.8' fill='#d65345' stroke='#000' stroke-width='1.45' />
<circle cx='991.7' cy='274.1' r='6.8' fill='#d65345' stroke='#000' stroke-width='1.45' />
<circle cx='1009.6' cy='270.1' r='6.8' fill='#d65345' stroke='#000' stroke-width='1.45' />
<circle cx='1027.4' cy='264.3' r='6.8' fill='#d65345' stroke='#000' stroke-width='1.45' />
<circle cx='1045' cy='264.2' r='6.8' fill='#d65345' stroke='#000' stroke-width='1.45' />
<circle cx='1062.7' cy='263.6' r='6.8' fill='#d65345' stroke='#000' stroke-width='1.45' />
<circle cx='1078.1' cy='263.9' r='6.8' fill='#d65345' stroke='#000' stroke-width='1.45' />
<circle cx='1098.1' cy='271.7' r='6.8' fill='#d65345' stroke='#000' stroke-width='1.45' />
<circle cx='1115.8' cy='277.7' r='6.8' fill='#d65345' stroke='#000' stroke-width='1.45' />
<circle cx='1133.6' cy='286.7' r='6.8' fill='#d65345' stroke='#000' stroke-width='1.45' />
<circle cx='1151.2' cy='295.7' r='6.8' fill='#d65345' stroke='#000' stroke-width='1.45' />
<circle cx='1169.1' cy='307.6' r='6.8' fill='#d65345' stroke='#000' stroke-width='1.45' />
<circle cx='1186.8' cy='317.2' r='6.8' fill='#d65345' stroke='#000' stroke-width='1.45' />
<circle cx='1204.5' cy='324.8' r='6.8' fill='#d65345' stroke='#000' stroke-width='1.45' />
<circle cx='1222.2' cy='334.2' r='6.8' fill='#d65345' stroke='#000' stroke-width='1.45' />
<circle cx='1240' cy='340.8' r='6.8' fill='#d65345' stroke='#000' stroke-width='1.45' />
<circle cx='1257.8' cy='349' r='6.8' fill='#d65345' stroke='#000' stroke-width='1.45' />
</g>
<rect x='811.4' y='56.4' width='519.6' height='505.4' fill='none' stroke='#000' stroke-width='1.4' />
<line x1='837.1' y1='94.4' x2='895.7' y2='94.4' stroke='#000' stroke-width='1.8' />
<circle cx='866.4' cy='94.4' r='6.8' fill='#aec9f9' stroke='#000' stroke-width='1.45' />
<text transform='translate(917.77,103.90) scale(0.9648,1)' font-family='Liberation Sans, sans-serif' font-size='29' style='' font-weight='normal' fill='#000' >LSCF</text>
<line x1='837.1' y1='136.6' x2='895.7' y2='136.6' stroke='#000' stroke-width='1.8' />
<circle cx='866.4' cy='136.6' r='6.8' fill='#f5c8af' stroke='#000' stroke-width='1.45' />
<text transform='translate(919.26,146.10) scale(1.1197,1)' font-family='Liberation Sans, sans-serif' font-size='29' style='' font-weight='normal' fill='#000' >1 nm</text>
<line x1='837.1' y1='178.8' x2='895.7' y2='178.8' stroke='#000' stroke-width='1.8' />
<circle cx='866.4' cy='178.8' r='6.8' fill='#f6aa8c' stroke='#000' stroke-width='1.45' />
<text transform='translate(918.57,188.30) scale(1.1306,1)' font-family='Liberation Sans, sans-serif' font-size='29' style='' font-weight='normal' fill='#000' >5 nm</text>
<line x1='1049' y1='94.4' x2='1107.2' y2='94.4' stroke='#000' stroke-width='1.8' />
<circle cx='1078.1' cy='94.4' r='6.8' fill='#ec7f64' stroke='#000' stroke-width='1.45' />
<text transform='translate(1130.76,103.90) scale(1.1221,1)' font-family='Liberation Sans, sans-serif' font-size='29' style='' font-weight='normal' fill='#000' >10 nm</text>
<line x1='1049' y1='136.6' x2='1107.2' y2='136.6' stroke='#000' stroke-width='1.8' />
<circle cx='1078.1' cy='136.6' r='6.8' fill='#d65345' stroke='#000' stroke-width='1.45' />
<text transform='translate(1129.42,146.10) scale(1.0383,1)' font-family='Liberation Sans, sans-serif' font-size='29' style='' font-weight='normal' fill='#000' >PrO<tspan font-style='italic' font-size='20' dy='6'>x</tspan></text>
<defs><clipPath id='clipC'><rect x='122.9' y='675.9' width='521.0' height='493.5000000000001'/></clipPath></defs>
<line x1='118.9' y1='1169.4' x2='122.9' y2='1169.4' stroke='#000' stroke-width='1.4' />
<line x1='120.7' y1='1119.88' x2='122.9' y2='1119.88' stroke='#000' stroke-width='1.0' />
<line x1='120.7' y1='1090.91' x2='122.9' y2='1090.91' stroke='#000' stroke-width='1.0' />
<line x1='120.7' y1='1070.36' x2='122.9' y2='1070.36' stroke='#000' stroke-width='1.0' />
<line x1='120.7' y1='1054.42' x2='122.9' y2='1054.42' stroke='#000' stroke-width='1.0' />
<line x1='120.7' y1='1041.39' x2='122.9' y2='1041.39' stroke='#000' stroke-width='1.0' />
<line x1='120.7' y1='1030.38' x2='122.9' y2='1030.38' stroke='#000' stroke-width='1.0' />
<line x1='120.7' y1='1020.84' x2='122.9' y2='1020.84' stroke='#000' stroke-width='1.0' />
<line x1='120.7' y1='1012.43' x2='122.9' y2='1012.43' stroke='#000' stroke-width='1.0' />
<line x1='118.9' y1='1004.9' x2='122.9' y2='1004.9' stroke='#000' stroke-width='1.4' />
<line x1='120.7' y1='955.38' x2='122.9' y2='955.38' stroke='#000' stroke-width='1.0' />
<line x1='120.7' y1='926.41' x2='122.9' y2='926.41' stroke='#000' stroke-width='1.0' />
<line x1='120.7' y1='905.86' x2='122.9' y2='905.86' stroke='#000' stroke-width='1.0' />
<line x1='120.7' y1='889.92' x2='122.9' y2='889.92' stroke='#000' stroke-width='1.0' />
<line x1='120.7' y1='876.89' x2='122.9' y2='876.89' stroke='#000' stroke-width='1.0' />
<line x1='120.7' y1='865.88' x2='122.9' y2='865.88' stroke='#000' stroke-width='1.0' />
<line x1='120.7' y1='856.34' x2='122.9' y2='856.34' stroke='#000' stroke-width='1.0' />
<line x1='120.7' y1='847.93' x2='122.9' y2='847.93' stroke='#000' stroke-width='1.0' />
<line x1='118.9' y1='840.4' x2='122.9' y2='840.4' stroke='#000' stroke-width='1.4' />
<line x1='120.7' y1='790.88' x2='122.9' y2='790.88' stroke='#000' stroke-width='1.0' />
<line x1='120.7' y1='761.91' x2='122.9' y2='761.91' stroke='#000' stroke-width='1.0' />
<line x1='120.7' y1='741.36' x2='122.9' y2='741.36' stroke='#000' stroke-width='1.0' />
<line x1='120.7' y1='725.42' x2='122.9' y2='725.42' stroke='#000' stroke-width='1.0' />
<line x1='120.7' y1='712.39' x2='122.9' y2='712.39' stroke='#000' stroke-width='1.0' />
<line x1='120.7' y1='701.38' x2='122.9' y2='701.38' stroke='#000' stroke-width='1.0' />
<line x1='120.7' y1='691.84' x2='122.9' y2='691.84' stroke='#000' stroke-width='1.0' />
<line x1='120.7' y1='683.43' x2='122.9' y2='683.43' stroke='#000' stroke-width='1.0' />
<line x1='118.9' y1='675.9' x2='122.9' y2='675.9' stroke='#000' stroke-width='1.4' />
<text transform='translate(64.85,1178.70) scale(1.0733,1)' font-family='Liberation Sans, sans-serif' font-size='30' style='' font-weight='normal' fill='#000' >10</text>
<text transform='translate(101.50,1168.20) scale(1.0000,1)' font-family='Liberation Sans, sans-serif' font-size='21' style='' font-weight='normal' fill='#000' >2</text>
<text transform='translate(64.85,1014.20) scale(1.0733,1)' font-family='Liberation Sans, sans-serif' font-size='30' style='' font-weight='normal' fill='#000' >10</text>
<text transform='translate(101.50,1003.70) scale(1.0000,1)' font-family='Liberation Sans, sans-serif' font-size='21' style='' font-weight='normal' fill='#000' >3</text>
<text transform='translate(64.85,849.70) scale(1.0733,1)' font-family='Liberation Sans, sans-serif' font-size='30' style='' font-weight='normal' fill='#000' >10</text>
<text transform='translate(101.50,839.20) scale(1.0000,1)' font-family='Liberation Sans, sans-serif' font-size='21' style='' font-weight='normal' fill='#000' >4</text>
<text transform='translate(64.85,685.20) scale(1.0733,1)' font-family='Liberation Sans, sans-serif' font-size='30' style='' font-weight='normal' fill='#000' >10</text>
<text transform='translate(101.50,674.70) scale(1.0000,1)' font-family='Liberation Sans, sans-serif' font-size='21' style='' font-weight='normal' fill='#000' >5</text>
<line x1='156.9' y1='1169.4' x2='156.9' y2='1173.4' stroke='#000' stroke-width='1.4' />
<line x1='291.9' y1='1169.4' x2='291.9' y2='1173.4' stroke='#000' stroke-width='1.4' />
<line x1='426.9' y1='1169.4' x2='426.9' y2='1173.4' stroke='#000' stroke-width='1.4' />
<line x1='561.9' y1='1169.4' x2='561.9' y2='1173.4' stroke='#000' stroke-width='1.4' />
<text transform='translate(124.57,1198.10) scale(1.1263,1)' font-family='Liberation Sans, sans-serif' font-size='30' style='' font-weight='normal' fill='#000' >&#8722;0.4</text>
<text transform='translate(259.57,1198.10) scale(1.1263,1)' font-family='Liberation Sans, sans-serif' font-size='30' style='' font-weight='normal' fill='#000' >&#8722;0.2</text>
<text transform='translate(405.16,1198.10) scale(1.0350,1)' font-family='Liberation Sans, sans-serif' font-size='30' style='' font-weight='normal' fill='#000' >0.0</text>
<text transform='translate(540.14,1198.10) scale(1.0615,1)' font-family='Liberation Sans, sans-serif' font-size='30' style='' font-weight='normal' fill='#000' >0.2</text>
<text transform='translate(79.68,1230.20) scale(1.1211,1)' font-family='Liberation Sans, sans-serif' font-size='28.5' style='' font-weight='normal' fill='#000' >Oxygen chemical potential vs. 1 bar (eV)</text>
<text transform='translate(54.40,1095.24) rotate(-90) scale(1.1208,1)' font-family='Liberation Sans, sans-serif' font-size='29' style='' font-weight='normal' fill='#000' >Log C<tspan font-style='italic' font-size='20' dy='5'>chem</tspan><tspan dy='-5'>/V</tspan><tspan font-style='italic' font-size='20' dy='5'>film</tspan><tspan dy='-5'> (F&#183;cm</tspan><tspan font-size='20' dy='-11'>&#8722; 3</tspan><tspan dy='11'>)</tspan></text>
<g clip-path='url(#clipC)'>
<polyline points='188.1,1033.1 207.5,1027 227.1,1019.7 248.1,1019.1 268.2,1018.1 288.2,1026.7 309.6,1028.1 330.3,1033.7 351.3,1041.7 372.3,1051.7 390.3,1059.1 415,1066.3 435.6,1070.4 456.6,1076.4 477.6,1083.1 497.7,1089.9 518.2,1098.6 537.2,1104.2 556.7,1114 575.4,1117.6 594.1,1124.7' fill='none' stroke='#000' stroke-width='1.9' stroke-linejoin='round' />
<circle cx='188.1' cy='1033.1' r='6.8' fill='#aec9f9' stroke='#000' stroke-width='1.45' />
<circle cx='207.5' cy='1027' r='6.8' fill='#aec9f9' stroke='#000' stroke-width='1.45' />
<circle cx='227.1' cy='1019.7' r='6.8' fill='#aec9f9' stroke='#000' stroke-width='1.45' />
<circle cx='248.1' cy='1019.1' r='6.8' fill='#aec9f9' stroke='#000' stroke-width='1.45' />
<circle cx='268.2' cy='1018.1' r='6.8' fill='#aec9f9' stroke='#000' stroke-width='1.45' />
<circle cx='288.2' cy='1026.7' r='6.8' fill='#aec9f9' stroke='#000' stroke-width='1.45' />
<circle cx='309.6' cy='1028.1' r='6.8' fill='#aec9f9' stroke='#000' stroke-width='1.45' />
<circle cx='330.3' cy='1033.7' r='6.8' fill='#aec9f9' stroke='#000' stroke-width='1.45' />
<circle cx='351.3' cy='1041.7' r='6.8' fill='#aec9f9' stroke='#000' stroke-width='1.45' />
<circle cx='372.3' cy='1051.7' r='6.8' fill='#aec9f9' stroke='#000' stroke-width='1.45' />
<circle cx='390.3' cy='1059.1' r='6.8' fill='#aec9f9' stroke='#000' stroke-width='1.45' />
<circle cx='415' cy='1066.3' r='6.8' fill='#aec9f9' stroke='#000' stroke-width='1.45' />
<circle cx='435.6' cy='1070.4' r='6.8' fill='#aec9f9' stroke='#000' stroke-width='1.45' />
<circle cx='456.6' cy='1076.4' r='6.8' fill='#aec9f9' stroke='#000' stroke-width='1.45' />
<circle cx='477.6' cy='1083.1' r='6.8' fill='#aec9f9' stroke='#000' stroke-width='1.45' />
<circle cx='497.7' cy='1089.9' r='6.8' fill='#aec9f9' stroke='#000' stroke-width='1.45' />
<circle cx='518.2' cy='1098.6' r='6.8' fill='#aec9f9' stroke='#000' stroke-width='1.45' />
<circle cx='537.2' cy='1104.2' r='6.8' fill='#aec9f9' stroke='#000' stroke-width='1.45' />
<circle cx='556.7' cy='1114' r='6.8' fill='#aec9f9' stroke='#000' stroke-width='1.45' />
<circle cx='575.4' cy='1117.6' r='6.8' fill='#aec9f9' stroke='#000' stroke-width='1.45' />
<circle cx='594.1' cy='1124.7' r='6.8' fill='#aec9f9' stroke='#000' stroke-width='1.45' />
<polyline points='171,1032.7 192.1,1029.5 213.7,1021.1 235,1021.5 256,1020.5 278,1022.5 299.8,1026.7 321.2,1028.5 342.9,1033.5 364.7,1044.7 383.3,1051.7 407.3,1058.1 427.3,1061.4 447.3,1066.3 467.7,1071.9 487.1,1079.9 505.7,1088.2 524.5,1093.2 541.9,1099.2 558.5,1104.2 573.9,1108.7' fill='none' stroke='#000' stroke-width='1.9' stroke-linejoin='round' />
<circle cx='171' cy='1032.7' r='6.8' fill='#e6d6cc' stroke='#000' stroke-width='1.45' />
<circle cx='192.1' cy='1029.5' r='6.8' fill='#e6d6cc' stroke='#000' stroke-width='1.45' />
<circle cx='213.7' cy='1021.1' r='6.8' fill='#e6d6cc' stroke='#000' stroke-width='1.45' />
<circle cx='235' cy='1021.5' r='6.8' fill='#e6d6cc' stroke='#000' stroke-width='1.45' />
<circle cx='256' cy='1020.5' r='6.8' fill='#e6d6cc' stroke='#000' stroke-width='1.45' />
<circle cx='278' cy='1022.5' r='6.8' fill='#e6d6cc' stroke='#000' stroke-width='1.45' />
<circle cx='299.8' cy='1026.7' r='6.8' fill='#e6d6cc' stroke='#000' stroke-width='1.45' />
<circle cx='321.2' cy='1028.5' r='6.8' fill='#e6d6cc' stroke='#000' stroke-width='1.45' />
<circle cx='342.9' cy='1033.5' r='6.8' fill='#e6d6cc' stroke='#000' stroke-width='1.45' />
<circle cx='364.7' cy='1044.7' r='6.8' fill='#e6d6cc' stroke='#000' stroke-width='1.45' />
<circle cx='383.3' cy='1051.7' r='6.8' fill='#e6d6cc' stroke='#000' stroke-width='1.45' />
<circle cx='407.3' cy='1058.1' r='6.8' fill='#e6d6cc' stroke='#000' stroke-width='1.45' />
<circle cx='427.3' cy='1061.4' r='6.8' fill='#e6d6cc' stroke='#000' stroke-width='1.45' />
<circle cx='447.3' cy='1066.3' r='6.8' fill='#e6d6cc' stroke='#000' stroke-width='1.45' />
<circle cx='467.7' cy='1071.9' r='6.8' fill='#e6d6cc' stroke='#000' stroke-width='1.45' />
<circle cx='487.1' cy='1079.9' r='6.8' fill='#e6d6cc' stroke='#000' stroke-width='1.45' />
<circle cx='505.7' cy='1088.2' r='6.8' fill='#e6d6cc' stroke='#000' stroke-width='1.45' />
<circle cx='524.5' cy='1093.2' r='6.8' fill='#e6d6cc' stroke='#000' stroke-width='1.45' />
<circle cx='541.9' cy='1099.2' r='6.8' fill='#e6d6cc' stroke='#000' stroke-width='1.45' />
<circle cx='558.5' cy='1104.2' r='6.8' fill='#e6d6cc' stroke='#000' stroke-width='1.45' />
<circle cx='573.9' cy='1108.7' r='6.8' fill='#e6d6cc' stroke='#000' stroke-width='1.45' />
<polyline points='204.5,1034.5 220.1,1030.1 235.7,1023.1 251.7,1021.1 270,1024 290,1023 310,1022 330.5,1018.5 347.3,1012.5 367.3,1024.5 383.3,1032.5 407.8,1036.9 427.7,1037.7 447.7,1041 468.9,1046.2 488.1,1050.3 504.1,1054.1 517.8,1055.7 530.1,1059 541.2,1061.4 553.1,1062.2' fill='none' stroke='#000' stroke-width='1.9' stroke-linejoin='round' />
<circle cx='204.5' cy='1034.5' r='6.8' fill='#f4c4aa' stroke='#000' stroke-width='1.45' />
<circle cx='220.1' cy='1030.1' r='6.8' fill='#f4c4aa' stroke='#000' stroke-width='1.45' />
<circle cx='235.7' cy='1023.1' r='6.8' fill='#f4c4aa' stroke='#000' stroke-width='1.45' />
<circle cx='251.7' cy='1021.1' r='6.8' fill='#f4c4aa' stroke='#000' stroke-width='1.45' />
<circle cx='270' cy='1024' r='6.8' fill='#f4c4aa' stroke='#000' stroke-width='1.45' />
<circle cx='290' cy='1023' r='6.8' fill='#f4c4aa' stroke='#000' stroke-width='1.45' />
<circle cx='310' cy='1022' r='6.8' fill='#f4c4aa' stroke='#000' stroke-width='1.45' />
<circle cx='330.5' cy='1018.5' r='6.8' fill='#f4c4aa' stroke='#000' stroke-width='1.45' />
<circle cx='347.3' cy='1012.5' r='6.8' fill='#f4c4aa' stroke='#000' stroke-width='1.45' />
<circle cx='367.3' cy='1024.5' r='6.8' fill='#f4c4aa' stroke='#000' stroke-width='1.45' />
<circle cx='383.3' cy='1032.5' r='6.8' fill='#f4c4aa' stroke='#000' stroke-width='1.45' />
<circle cx='407.8' cy='1036.9' r='6.8' fill='#f4c4aa' stroke='#000' stroke-width='1.45' />
<circle cx='427.7' cy='1037.7' r='6.8' fill='#f4c4aa' stroke='#000' stroke-width='1.45' />
<circle cx='447.7' cy='1041' r='6.8' fill='#f4c4aa' stroke='#000' stroke-width='1.45' />
<circle cx='468.9' cy='1046.2' r='6.8' fill='#f4c4aa' stroke='#000' stroke-width='1.45' />
<circle cx='488.1' cy='1050.3' r='6.8' fill='#f4c4aa' stroke='#000' stroke-width='1.45' />
<circle cx='504.1' cy='1054.1' r='6.8' fill='#f4c4aa' stroke='#000' stroke-width='1.45' />
<circle cx='517.8' cy='1055.7' r='6.8' fill='#f4c4aa' stroke='#000' stroke-width='1.45' />
<circle cx='530.1' cy='1059' r='6.8' fill='#f4c4aa' stroke='#000' stroke-width='1.45' />
<circle cx='541.2' cy='1061.4' r='6.8' fill='#f4c4aa' stroke='#000' stroke-width='1.45' />
<circle cx='553.1' cy='1062.2' r='6.8' fill='#f4c4aa' stroke='#000' stroke-width='1.45' />
<polyline points='228.1,1036.7 242.5,1034.5 258.2,1026.1 272.2,1025.1 288.2,1021.1 303.2,1020.1 319.8,1017.5 336.3,1009.7 353.3,994 370.7,1002.4 383.3,1021.1 405.2,1021.1 421.2,1020.9 437.2,1020.9 452.2,1023 467.2,1024.3 481.6,1027.9 495,1029.6 507.7,1030.4 520,1030.7 534.2,1030.7' fill='none' stroke='#000' stroke-width='1.9' stroke-linejoin='round' />
<circle cx='228.1' cy='1036.7' r='6.8' fill='#f5a98a' stroke='#000' stroke-width='1.45' />
<circle cx='242.5' cy='1034.5' r='6.8' fill='#f5a98a' stroke='#000' stroke-width='1.45' />
<circle cx='258.2' cy='1026.1' r='6.8' fill='#f5a98a' stroke='#000' stroke-width='1.45' />
<circle cx='272.2' cy='1025.1' r='6.8' fill='#f5a98a' stroke='#000' stroke-width='1.45' />
<circle cx='288.2' cy='1021.1' r='6.8' fill='#f5a98a' stroke='#000' stroke-width='1.45' />
<circle cx='303.2' cy='1020.1' r='6.8' fill='#f5a98a' stroke='#000' stroke-width='1.45' />
<circle cx='319.8' cy='1017.5' r='6.8' fill='#f5a98a' stroke='#000' stroke-width='1.45' />
<circle cx='336.3' cy='1009.7' r='6.8' fill='#f5a98a' stroke='#000' stroke-width='1.45' />
<circle cx='353.3' cy='994' r='6.8' fill='#f5a98a' stroke='#000' stroke-width='1.45' />
<circle cx='370.7' cy='1002.4' r='6.8' fill='#f5a98a' stroke='#000' stroke-width='1.45' />
<circle cx='383.3' cy='1021.1' r='6.8' fill='#f5a98a' stroke='#000' stroke-width='1.45' />
<circle cx='405.2' cy='1021.1' r='6.8' fill='#f5a98a' stroke='#000' stroke-width='1.45' />
<circle cx='421.2' cy='1020.9' r='6.8' fill='#f5a98a' stroke='#000' stroke-width='1.45' />
<circle cx='437.2' cy='1020.9' r='6.8' fill='#f5a98a' stroke='#000' stroke-width='1.45' />
<circle cx='452.2' cy='1023' r='6.8' fill='#f5a98a' stroke='#000' stroke-width='1.45' />
<circle cx='467.2' cy='1024.3' r='6.8' fill='#f5a98a' stroke='#000' stroke-width='1.45' />
<circle cx='481.6' cy='1027.9' r='6.8' fill='#f5a98a' stroke='#000' stroke-width='1.45' />
<circle cx='495' cy='1029.6' r='6.8' fill='#f5a98a' stroke='#000' stroke-width='1.45' />
<circle cx='507.7' cy='1030.4' r='6.8' fill='#f5a98a' stroke='#000' stroke-width='1.45' />
<circle cx='520' cy='1030.7' r='6.8' fill='#f5a98a' stroke='#000' stroke-width='1.45' />
<circle cx='534.2' cy='1030.7' r='6.8' fill='#f5a98a' stroke='#000' stroke-width='1.45' />
<circle cx='383.4' cy='903.6' r='6.8' fill='#d65345' stroke='#000' stroke-width='1.45' />
<polyline points='212.1,1075.1 229.5,1067.7 246.7,1055.5 264.2,1040.5 281.6,1018.1 298.8,992.2 316.1,952.8 333.4,917.5 350.8,861.1 368.4,875.2 383,901.2 402.4,896.8 419.8,891.9 437.4,886.7 454.7,885.6 472.1,885.2 489.2,883.6 506.6,883 524.2,881.6 541.5,880.5 558.9,879.2' fill='none' stroke='#000' stroke-width='1.9' stroke-linejoin='round' />
<circle cx='212.1' cy='1075.1' r='6.8' fill='#d65345' stroke='#000' stroke-width='1.45' />
<circle cx='229.5' cy='1067.7' r='6.8' fill='#d65345' stroke='#000' stroke-width='1.45' />
<circle cx='246.7' cy='1055.5' r='6.8' fill='#d65345' stroke='#000' stroke-width='1.45' />
<circle cx='264.2' cy='1040.5' r='6.8' fill='#d65345' stroke='#000' stroke-width='1.45' />
<circle cx='281.6' cy='1018.1' r='6.8' fill='#d65345' stroke='#000' stroke-width='1.45' />
<circle cx='298.8' cy='992.2' r='6.8' fill='#d65345' stroke='#000' stroke-width='1.45' />
<circle cx='316.1' cy='952.8' r='6.8' fill='#d65345' stroke='#000' stroke-width='1.45' />
<circle cx='333.4' cy='917.5' r='6.8' fill='#d65345' stroke='#000' stroke-width='1.45' />
<circle cx='350.8' cy='861.1' r='6.8' fill='#d65345' stroke='#000' stroke-width='1.45' />
<circle cx='368.4' cy='875.2' r='6.8' fill='#d65345' stroke='#000' stroke-width='1.45' />
<circle cx='383' cy='901.2' r='6.8' fill='#d65345' stroke='#000' stroke-width='1.45' />
<circle cx='402.4' cy='896.8' r='6.8' fill='#d65345' stroke='#000' stroke-width='1.45' />
<circle cx='419.8' cy='891.9' r='6.8' fill='#d65345' stroke='#000' stroke-width='1.45' />
<circle cx='437.4' cy='886.7' r='6.8' fill='#d65345' stroke='#000' stroke-width='1.45' />
<circle cx='454.7' cy='885.6' r='6.8' fill='#d65345' stroke='#000' stroke-width='1.45' />
<circle cx='472.1' cy='885.2' r='6.8' fill='#d65345' stroke='#000' stroke-width='1.45' />
<circle cx='489.2' cy='883.6' r='6.8' fill='#d65345' stroke='#000' stroke-width='1.45' />
<circle cx='506.6' cy='883' r='6.8' fill='#d65345' stroke='#000' stroke-width='1.45' />
<circle cx='524.2' cy='881.6' r='6.8' fill='#d65345' stroke='#000' stroke-width='1.45' />
<circle cx='541.5' cy='880.5' r='6.8' fill='#d65345' stroke='#000' stroke-width='1.45' />
<circle cx='558.9' cy='879.2' r='6.8' fill='#d65345' stroke='#000' stroke-width='1.45' />
</g>
<rect x='122.9' y='675.9' width='521' height='493.5' fill='none' stroke='#000' stroke-width='1.4' />
<line x1='147.6' y1='712.8' x2='205.4' y2='712.8' stroke='#000' stroke-width='1.8' />
<circle cx='176.5' cy='712.8' r='6.8' fill='#aec9f9' stroke='#000' stroke-width='1.45' />
<text transform='translate(225.99,722.30) scale(0.9563,1)' font-family='Liberation Sans, sans-serif' font-size='29' style='' font-weight='normal' fill='#000' >LSCF</text>
<line x1='147.6' y1='754.1' x2='205.4' y2='754.1' stroke='#000' stroke-width='1.8' />
<circle cx='176.5' cy='754.1' r='6.8' fill='#e6d6cc' stroke='#000' stroke-width='1.45' />
<text transform='translate(227.48,763.60) scale(1.1082,1)' font-family='Liberation Sans, sans-serif' font-size='29' style='' font-weight='normal' fill='#000' >1 nm</text>
<line x1='147.6' y1='795.3' x2='205.4' y2='795.3' stroke='#000' stroke-width='1.8' />
<circle cx='176.5' cy='795.3' r='6.8' fill='#f4c4aa' stroke='#000' stroke-width='1.45' />
<text transform='translate(226.78,804.80) scale(1.1194,1)' font-family='Liberation Sans, sans-serif' font-size='29' style='' font-weight='normal' fill='#000' >5 nm</text>
<line x1='354.5' y1='712.8' x2='412.2' y2='712.8' stroke='#000' stroke-width='1.8' />
<circle cx='383.3' cy='712.8' r='6.8' fill='#f5a98a' stroke='#000' stroke-width='1.45' />
<text transform='translate(434.27,722.30) scale(1.1143,1)' font-family='Liberation Sans, sans-serif' font-size='29' style='' font-weight='normal' fill='#000' >10 nm</text>
<line x1='354.5' y1='754.1' x2='412.2' y2='754.1' stroke='#000' stroke-width='1.8' />
<circle cx='383.3' cy='754.1' r='6.8' fill='#d65345' stroke='#000' stroke-width='1.45' />
<text transform='translate(432.95,763.60) scale(1.0250,1)' font-family='Liberation Sans, sans-serif' font-size='29' style='' font-weight='normal' fill='#000' >PrO<tspan font-style='italic' font-size='20' dy='6'>x</tspan></text>
<defs><clipPath id='clipD0'><rect x='810.6' y='673.8' width='508.4' height='159.5'/></clipPath></defs>
<line x1='806.6' y1='708.2' x2='810.6' y2='708.2' stroke='#000' stroke-width='1.4' />
<line x1='806.6' y1='822.3' x2='810.6' y2='822.3' stroke='#000' stroke-width='1.4' />
<line x1='808.4' y1='787.95' x2='810.6' y2='787.95' stroke='#000' stroke-width='1.0' />
<line x1='808.4' y1='767.86' x2='810.6' y2='767.86' stroke='#000' stroke-width='1.0' />
<line x1='808.4' y1='753.6' x2='810.6' y2='753.6' stroke='#000' stroke-width='1.0' />
<line x1='808.4' y1='742.55' x2='810.6' y2='742.55' stroke='#000' stroke-width='1.0' />
<line x1='808.4' y1='733.51' x2='810.6' y2='733.51' stroke='#000' stroke-width='1.0' />
<line x1='808.4' y1='725.87' x2='810.6' y2='725.87' stroke='#000' stroke-width='1.0' />
<line x1='808.4' y1='719.26' x2='810.6' y2='719.26' stroke='#000' stroke-width='1.0' />
<line x1='808.4' y1='713.42' x2='810.6' y2='713.42' stroke='#000' stroke-width='1.0' />
<line x1='808.4' y1='827.52' x2='810.6' y2='827.52' stroke='#000' stroke-width='1.0' />
<text transform='translate(755.09,717.90) scale(1.0552,1)' font-family='Liberation Sans, sans-serif' font-size='29' style='' font-weight='normal' fill='#000' >10</text>
<text transform='translate(789.60,707.80) scale(1.0000,1)' font-family='Liberation Sans, sans-serif' font-size='20.5' style='' font-weight='normal' fill='#000' >3</text>
<text transform='translate(755.09,832.00) scale(1.0552,1)' font-family='Liberation Sans, sans-serif' font-size='29' style='' font-weight='normal' fill='#000' >10</text>
<text transform='translate(790.60,821.90) scale(1.0000,1)' font-family='Liberation Sans, sans-serif' font-size='20.5' style='' font-weight='normal' fill='#000' >2</text>
<line x1='843.6' y1='833.3' x2='843.6' y2='837.3' stroke='#000' stroke-width='1.4' />
<line x1='975.4' y1='833.3' x2='975.4' y2='837.3' stroke='#000' stroke-width='1.4' />
<line x1='1107.2' y1='833.3' x2='1107.2' y2='837.3' stroke='#000' stroke-width='1.4' />
<line x1='1239' y1='833.3' x2='1239' y2='837.3' stroke='#000' stroke-width='1.4' />
<g clip-path='url(#clipD0)'>
<circle cx='913.5' cy='730.1' r='6.4' fill='#f6b9a0' stroke='none' stroke-width='0' />
<circle cx='927.3' cy='729' r='6.4' fill='#f6b9a0' stroke='none' stroke-width='0' />
<circle cx='942' cy='722.4' r='6.4' fill='#f6b9a0' stroke='none' stroke-width='0' />
<circle cx='956.4' cy='721.9' r='6.4' fill='#f6b9a0' stroke='none' stroke-width='0' />
<circle cx='971.4' cy='719.2' r='6.4' fill='#f6b9a0' stroke='none' stroke-width='0' />
<circle cx='986.4' cy='718.5' r='6.4' fill='#f6b9a0' stroke='none' stroke-width='0' />
<circle cx='1002.7' cy='716.7' r='6.4' fill='#f6b9a0' stroke='none' stroke-width='0' />
<circle cx='1019.1' cy='711.3' r='6.4' fill='#f6b9a0' stroke='none' stroke-width='0' />
<circle cx='1035.9' cy='700.4' r='6.4' fill='#f6b9a0' stroke='none' stroke-width='0' />
<circle cx='1052.7' cy='706.1' r='6.4' fill='#f6b9a0' stroke='none' stroke-width='0' />
<circle cx='1064.8' cy='719.5' r='6.4' fill='#f6b9a0' stroke='none' stroke-width='0' />
<circle cx='1086' cy='719.1' r='6.4' fill='#f6b9a0' stroke='none' stroke-width='0' />
<circle cx='1101.8' cy='719.1' r='6.4' fill='#f6b9a0' stroke='none' stroke-width='0' />
<circle cx='1117.4' cy='719.4' r='6.4' fill='#f6b9a0' stroke='none' stroke-width='0' />
<circle cx='1132.1' cy='720.4' r='6.4' fill='#f6b9a0' stroke='none' stroke-width='0' />
<circle cx='1146.8' cy='721.6' r='6.4' fill='#f6b9a0' stroke='none' stroke-width='0' />
<circle cx='1160.8' cy='724' r='6.4' fill='#f6b9a0' stroke='none' stroke-width='0' />
<circle cx='1173.9' cy='725.4' r='6.4' fill='#f6b9a0' stroke='none' stroke-width='0' />
<circle cx='1186.2' cy='725.4' r='6.4' fill='#f6b9a0' stroke='none' stroke-width='0' />
<circle cx='1198.2' cy='725.8' r='6.4' fill='#f6b9a0' stroke='none' stroke-width='0' />
<circle cx='1211.8' cy='726.3' r='6.4' fill='#f6b9a0' stroke='none' stroke-width='0' />
<polyline points='896.3,728.5 934,721.3 942,720.6 956.4,719.6 971.4,718.2 986.4,717.3 1002.7,715.3 1019.1,710.5 1035.9,700.4 1052.7,707 1064.8,718.2 1086,719.1 1101.8,719.1 1117.4,719.4 1132.1,720.4 1146.8,721.6 1160.8,723.4 1173.9,725 1186.2,725.4 1198.2,725.8 1211.8,726.3 1238,727.8' fill='none' stroke='#800000' stroke-width='3.8' stroke-linejoin='round' />
<circle cx='913.5' cy='730.1' r='5.6' fill='none' stroke='#f08c70' stroke-width='1.1' />
<circle cx='913.5' cy='730.1' r='6.8' fill='none' stroke='#000' stroke-width='1.2' />
<circle cx='927.3' cy='729' r='5.6' fill='none' stroke='#f08c70' stroke-width='1.1' />
<circle cx='927.3' cy='729' r='6.8' fill='none' stroke='#000' stroke-width='1.2' />
<circle cx='942' cy='722.4' r='5.6' fill='none' stroke='#f08c70' stroke-width='1.1' />
<circle cx='942' cy='722.4' r='6.8' fill='none' stroke='#000' stroke-width='1.2' />
<circle cx='956.4' cy='721.9' r='5.6' fill='none' stroke='#f08c70' stroke-width='1.1' />
<circle cx='956.4' cy='721.9' r='6.8' fill='none' stroke='#000' stroke-width='1.2' />
<circle cx='971.4' cy='719.2' r='5.6' fill='none' stroke='#f08c70' stroke-width='1.1' />
<circle cx='971.4' cy='719.2' r='6.8' fill='none' stroke='#000' stroke-width='1.2' />
<circle cx='986.4' cy='718.5' r='5.6' fill='none' stroke='#f08c70' stroke-width='1.1' />
<circle cx='986.4' cy='718.5' r='6.8' fill='none' stroke='#000' stroke-width='1.2' />
<circle cx='1002.7' cy='716.7' r='5.6' fill='none' stroke='#f08c70' stroke-width='1.1' />
<circle cx='1002.7' cy='716.7' r='6.8' fill='none' stroke='#000' stroke-width='1.2' />
<circle cx='1019.1' cy='711.3' r='5.6' fill='none' stroke='#f08c70' stroke-width='1.1' />
<circle cx='1019.1' cy='711.3' r='6.8' fill='none' stroke='#000' stroke-width='1.2' />
<circle cx='1035.9' cy='700.4' r='5.6' fill='none' stroke='#f08c70' stroke-width='1.1' />
<circle cx='1035.9' cy='700.4' r='6.8' fill='none' stroke='#000' stroke-width='1.2' />
<circle cx='1052.7' cy='706.1' r='5.6' fill='none' stroke='#f08c70' stroke-width='1.1' />
<circle cx='1052.7' cy='706.1' r='6.8' fill='none' stroke='#000' stroke-width='1.2' />
<circle cx='1064.8' cy='719.5' r='5.6' fill='none' stroke='#f08c70' stroke-width='1.1' />
<circle cx='1064.8' cy='719.5' r='6.8' fill='none' stroke='#000' stroke-width='1.2' />
<circle cx='1086' cy='719.1' r='5.6' fill='none' stroke='#f08c70' stroke-width='1.1' />
<circle cx='1086' cy='719.1' r='6.8' fill='none' stroke='#000' stroke-width='1.2' />
<circle cx='1101.8' cy='719.1' r='5.6' fill='none' stroke='#f08c70' stroke-width='1.1' />
<circle cx='1101.8' cy='719.1' r='6.8' fill='none' stroke='#000' stroke-width='1.2' />
<circle cx='1117.4' cy='719.4' r='5.6' fill='none' stroke='#f08c70' stroke-width='1.1' />
<circle cx='1117.4' cy='719.4' r='6.8' fill='none' stroke='#000' stroke-width='1.2' />
<circle cx='1132.1' cy='720.4' r='5.6' fill='none' stroke='#f08c70' stroke-width='1.1' />
<circle cx='1132.1' cy='720.4' r='6.8' fill='none' stroke='#000' stroke-width='1.2' />
<circle cx='1146.8' cy='721.6' r='5.6' fill='none' stroke='#f08c70' stroke-width='1.1' />
<circle cx='1146.8' cy='721.6' r='6.8' fill='none' stroke='#000' stroke-width='1.2' />
<circle cx='1160.8' cy='724' r='5.6' fill='none' stroke='#f08c70' stroke-width='1.1' />
<circle cx='1160.8' cy='724' r='6.8' fill='none' stroke='#000' stroke-width='1.2' />
<circle cx='1173.9' cy='725.4' r='5.6' fill='none' stroke='#f08c70' stroke-width='1.1' />
<circle cx='1173.9' cy='725.4' r='6.8' fill='none' stroke='#000' stroke-width='1.2' />
<circle cx='1186.2' cy='725.4' r='5.6' fill='none' stroke='#f08c70' stroke-width='1.1' />
<circle cx='1186.2' cy='725.4' r='6.8' fill='none' stroke='#000' stroke-width='1.2' />
<circle cx='1198.2' cy='725.8' r='5.6' fill='none' stroke='#f08c70' stroke-width='1.1' />
<circle cx='1198.2' cy='725.8' r='6.8' fill='none' stroke='#000' stroke-width='1.2' />
<circle cx='1211.8' cy='726.3' r='5.6' fill='none' stroke='#f08c70' stroke-width='1.1' />
<circle cx='1211.8' cy='726.3' r='6.8' fill='none' stroke='#000' stroke-width='1.2' />
</g>
<rect x='810.6' y='673.8' width='508.4' height='159.5' fill='none' stroke='#000' stroke-width='1.4' />
<text transform='translate(816.87,707.60) scale(1.0146,1)' font-family='Liberation Sans, sans-serif' font-size='31' style='' font-weight='normal' fill='#ed7d31' >10 nm</text>
<defs><clipPath id='clipD1'><rect x='810.6' y='841.8' width='508.4' height='158.80000000000007'/></clipPath></defs>
<line x1='806.6' y1='876' x2='810.6' y2='876' stroke='#000' stroke-width='1.4' />
<line x1='806.6' y1='989.6' x2='810.6' y2='989.6' stroke='#000' stroke-width='1.4' />
<line x1='808.4' y1='955.4' x2='810.6' y2='955.4' stroke='#000' stroke-width='1.0' />
<line x1='808.4' y1='935.4' x2='810.6' y2='935.4' stroke='#000' stroke-width='1.0' />
<line x1='808.4' y1='921.21' x2='810.6' y2='921.21' stroke='#000' stroke-width='1.0' />
<line x1='808.4' y1='910.2' x2='810.6' y2='910.2' stroke='#000' stroke-width='1.0' />
<line x1='808.4' y1='901.2' x2='810.6' y2='901.2' stroke='#000' stroke-width='1.0' />
<line x1='808.4' y1='893.6' x2='810.6' y2='893.6' stroke='#000' stroke-width='1.0' />
<line x1='808.4' y1='887.01' x2='810.6' y2='887.01' stroke='#000' stroke-width='1.0' />
<line x1='808.4' y1='881.2' x2='810.6' y2='881.2' stroke='#000' stroke-width='1.0' />
<line x1='808.4' y1='994.8' x2='810.6' y2='994.8' stroke='#000' stroke-width='1.0' />
<text transform='translate(755.09,885.70) scale(1.0552,1)' font-family='Liberation Sans, sans-serif' font-size='29' style='' font-weight='normal' fill='#000' >10</text>
<text transform='translate(789.60,875.60) scale(1.0000,1)' font-family='Liberation Sans, sans-serif' font-size='20.5' style='' font-weight='normal' fill='#000' >3</text>
<text transform='translate(755.09,999.30) scale(1.0552,1)' font-family='Liberation Sans, sans-serif' font-size='29' style='' font-weight='normal' fill='#000' >10</text>
<text transform='translate(790.60,989.20) scale(1.0000,1)' font-family='Liberation Sans, sans-serif' font-size='20.5' style='' font-weight='normal' fill='#000' >2</text>
<line x1='843.6' y1='1000.6' x2='843.6' y2='1004.6' stroke='#000' stroke-width='1.4' />
<line x1='975.4' y1='1000.6' x2='975.4' y2='1004.6' stroke='#000' stroke-width='1.4' />
<line x1='1107.2' y1='1000.6' x2='1107.2' y2='1004.6' stroke='#000' stroke-width='1.4' />
<line x1='1239' y1='1000.6' x2='1239' y2='1004.6' stroke='#000' stroke-width='1.4' />
<g clip-path='url(#clipD1)'>
<circle cx='890.5' cy='895.8' r='6.4' fill='#f3cdb8' stroke='none' stroke-width='0' />
<circle cx='905.3' cy='894' r='6.4' fill='#f3cdb8' stroke='none' stroke-width='0' />
<circle cx='920.7' cy='888.4' r='6.4' fill='#f3cdb8' stroke='none' stroke-width='0' />
<circle cx='937' cy='887.5' r='6.4' fill='#f3cdb8' stroke='none' stroke-width='0' />
<circle cx='953.8' cy='887.2' r='6.4' fill='#f3cdb8' stroke='none' stroke-width='0' />
<circle cx='971.2' cy='886.4' r='6.4' fill='#f3cdb8' stroke='none' stroke-width='0' />
<circle cx='989.7' cy='886' r='6.4' fill='#f3cdb8' stroke='none' stroke-width='0' />
<circle cx='1009' cy='885.7' r='6.4' fill='#f3cdb8' stroke='none' stroke-width='0' />
<circle cx='1029' cy='880.8' r='6.4' fill='#f3cdb8' stroke='none' stroke-width='0' />
<circle cx='1049.5' cy='889.4' r='6.4' fill='#f3cdb8' stroke='none' stroke-width='0' />
<circle cx='1064.6' cy='895.3' r='6.4' fill='#f3cdb8' stroke='none' stroke-width='0' />
<circle cx='1088.8' cy='898.3' r='6.4' fill='#f3cdb8' stroke='none' stroke-width='0' />
<circle cx='1108.1' cy='898.6' r='6.4' fill='#f3cdb8' stroke='none' stroke-width='0' />
<circle cx='1128.1' cy='900.9' r='6.4' fill='#f3cdb8' stroke='none' stroke-width='0' />
<circle cx='1148.3' cy='904.4' r='6.4' fill='#f3cdb8' stroke='none' stroke-width='0' />
<circle cx='1167.3' cy='907.7' r='6.4' fill='#f3cdb8' stroke='none' stroke-width='0' />
<circle cx='1183.1' cy='910.4' r='6.4' fill='#f3cdb8' stroke='none' stroke-width='0' />
<circle cx='1196.1' cy='911.5' r='6.4' fill='#f3cdb8' stroke='none' stroke-width='0' />
<circle cx='1208' cy='913' r='6.4' fill='#f3cdb8' stroke='none' stroke-width='0' />
<circle cx='1218.9' cy='914.9' r='6.4' fill='#f3cdb8' stroke='none' stroke-width='0' />
<circle cx='1230.6' cy='915.7' r='6.4' fill='#f3cdb8' stroke='none' stroke-width='0' />
<polyline points='905.3,893.5 920.7,889.5 937,887.3 953.8,887 971.2,886.4 989.7,886 1009,885.7 1029,879.8 1049.5,889.4 1064.6,895.8 1088.8,897.8 1108.1,898.6 1128.1,901.2 1148.3,904.6 1167.3,907.7 1183.1,910.2 1196.1,911.5 1208,913 1218.9,914.5 1237.7,915.1' fill='none' stroke='#800000' stroke-width='3.8' stroke-linejoin='round' />
<circle cx='890.5' cy='895.8' r='5.6' fill='none' stroke='#f4aa8c' stroke-width='1.1' />
<circle cx='890.5' cy='895.8' r='6.8' fill='none' stroke='#000' stroke-width='1.2' />
<circle cx='905.3' cy='894' r='5.6' fill='none' stroke='#f4aa8c' stroke-width='1.1' />
<circle cx='905.3' cy='894' r='6.8' fill='none' stroke='#000' stroke-width='1.2' />
<circle cx='920.7' cy='888.4' r='5.6' fill='none' stroke='#f4aa8c' stroke-width='1.1' />
<circle cx='920.7' cy='888.4' r='6.8' fill='none' stroke='#000' stroke-width='1.2' />
<circle cx='937' cy='887.5' r='5.6' fill='none' stroke='#f4aa8c' stroke-width='1.1' />
<circle cx='937' cy='887.5' r='6.8' fill='none' stroke='#000' stroke-width='1.2' />
<circle cx='953.8' cy='887.2' r='5.6' fill='none' stroke='#f4aa8c' stroke-width='1.1' />
<circle cx='953.8' cy='887.2' r='6.8' fill='none' stroke='#000' stroke-width='1.2' />
<circle cx='971.2' cy='886.4' r='5.6' fill='none' stroke='#f4aa8c' stroke-width='1.1' />
<circle cx='971.2' cy='886.4' r='6.8' fill='none' stroke='#000' stroke-width='1.2' />
<circle cx='989.7' cy='886' r='5.6' fill='none' stroke='#f4aa8c' stroke-width='1.1' />
<circle cx='989.7' cy='886' r='6.8' fill='none' stroke='#000' stroke-width='1.2' />
<circle cx='1009' cy='885.7' r='5.6' fill='none' stroke='#f4aa8c' stroke-width='1.1' />
<circle cx='1009' cy='885.7' r='6.8' fill='none' stroke='#000' stroke-width='1.2' />
<circle cx='1029' cy='880.8' r='5.6' fill='none' stroke='#f4aa8c' stroke-width='1.1' />
<circle cx='1029' cy='880.8' r='6.8' fill='none' stroke='#000' stroke-width='1.2' />
<circle cx='1049.5' cy='889.4' r='5.6' fill='none' stroke='#f4aa8c' stroke-width='1.1' />
<circle cx='1049.5' cy='889.4' r='6.8' fill='none' stroke='#000' stroke-width='1.2' />
<circle cx='1064.6' cy='895.3' r='5.6' fill='none' stroke='#f4aa8c' stroke-width='1.1' />
<circle cx='1064.6' cy='895.3' r='6.8' fill='none' stroke='#000' stroke-width='1.2' />
<circle cx='1088.8' cy='898.3' r='5.6' fill='none' stroke='#f4aa8c' stroke-width='1.1' />
<circle cx='1088.8' cy='898.3' r='6.8' fill='none' stroke='#000' stroke-width='1.2' />
<circle cx='1108.1' cy='898.6' r='5.6' fill='none' stroke='#f4aa8c' stroke-width='1.1' />
<circle cx='1108.1' cy='898.6' r='6.8' fill='none' stroke='#000' stroke-width='1.2' />
<circle cx='1128.1' cy='900.9' r='5.6' fill='none' stroke='#f4aa8c' stroke-width='1.1' />
<circle cx='1128.1' cy='900.9' r='6.8' fill='none' stroke='#000' stroke-width='1.2' />
<circle cx='1148.3' cy='904.4' r='5.6' fill='none' stroke='#f4aa8c' stroke-width='1.1' />
<circle cx='1148.3' cy='904.4' r='6.8' fill='none' stroke='#000' stroke-width='1.2' />
<circle cx='1167.3' cy='907.7' r='5.6' fill='none' stroke='#f4aa8c' stroke-width='1.1' />
<circle cx='1167.3' cy='907.7' r='6.8' fill='none' stroke='#000' stroke-width='1.2' />
<circle cx='1183.1' cy='910.4' r='5.6' fill='none' stroke='#f4aa8c' stroke-width='1.1' />
<circle cx='1183.1' cy='910.4' r='6.8' fill='none' stroke='#000' stroke-width='1.2' />
<circle cx='1196.1' cy='911.5' r='5.6' fill='none' stroke='#f4aa8c' stroke-width='1.1' />
<circle cx='1196.1' cy='911.5' r='6.8' fill='none' stroke='#000' stroke-width='1.2' />
<circle cx='1208' cy='913' r='5.6' fill='none' stroke='#f4aa8c' stroke-width='1.1' />
<circle cx='1208' cy='913' r='6.8' fill='none' stroke='#000' stroke-width='1.2' />
<circle cx='1218.9' cy='914.9' r='5.6' fill='none' stroke='#f4aa8c' stroke-width='1.1' />
<circle cx='1218.9' cy='914.9' r='6.8' fill='none' stroke='#000' stroke-width='1.2' />
<circle cx='1230.6' cy='915.7' r='5.6' fill='none' stroke='#f4aa8c' stroke-width='1.1' />
<circle cx='1230.6' cy='915.7' r='6.8' fill='none' stroke='#000' stroke-width='1.2' />
</g>
<rect x='810.6' y='841.8' width='508.4' height='158.8' fill='none' stroke='#000' stroke-width='1.4' />
<text transform='translate(817.25,872.00) scale(1.0469,1)' font-family='Liberation Sans, sans-serif' font-size='30' style='' font-weight='normal' fill='#e0967a' >5 nm</text>
<defs><clipPath id='clipD2'><rect x='810.6' y='1008.8' width='508.4' height='160.0'/></clipPath></defs>
<line x1='806.6' y1='1043.7' x2='810.6' y2='1043.7' stroke='#000' stroke-width='1.4' />
<line x1='806.6' y1='1157.8' x2='810.6' y2='1157.8' stroke='#000' stroke-width='1.4' />
<line x1='808.4' y1='1123.45' x2='810.6' y2='1123.45' stroke='#000' stroke-width='1.0' />
<line x1='808.4' y1='1009.35' x2='810.6' y2='1009.35' stroke='#000' stroke-width='1.0' />
<line x1='808.4' y1='1103.36' x2='810.6' y2='1103.36' stroke='#000' stroke-width='1.0' />
<line x1='808.4' y1='1089.1' x2='810.6' y2='1089.1' stroke='#000' stroke-width='1.0' />
<line x1='808.4' y1='1078.05' x2='810.6' y2='1078.05' stroke='#000' stroke-width='1.0' />
<line x1='808.4' y1='1069.01' x2='810.6' y2='1069.01' stroke='#000' stroke-width='1.0' />
<line x1='808.4' y1='1061.37' x2='810.6' y2='1061.37' stroke='#000' stroke-width='1.0' />
<line x1='808.4' y1='1054.76' x2='810.6' y2='1054.76' stroke='#000' stroke-width='1.0' />
<line x1='808.4' y1='1048.92' x2='810.6' y2='1048.92' stroke='#000' stroke-width='1.0' />
<line x1='808.4' y1='1163.02' x2='810.6' y2='1163.02' stroke='#000' stroke-width='1.0' />
<text transform='translate(755.09,1053.40) scale(1.0552,1)' font-family='Liberation Sans, sans-serif' font-size='29' style='' font-weight='normal' fill='#000' >10</text>
<text transform='translate(789.60,1043.30) scale(1.0000,1)' font-family='Liberation Sans, sans-serif' font-size='20.5' style='' font-weight='normal' fill='#000' >3</text>
<text transform='translate(755.09,1167.50) scale(1.0552,1)' font-family='Liberation Sans, sans-serif' font-size='29' style='' font-weight='normal' fill='#000' >10</text>
<text transform='translate(790.60,1157.40) scale(1.0000,1)' font-family='Liberation Sans, sans-serif' font-size='20.5' style='' font-weight='normal' fill='#000' >2</text>
<line x1='843.6' y1='1168.8' x2='843.6' y2='1172.8' stroke='#000' stroke-width='1.4' />
<line x1='975.4' y1='1168.8' x2='975.4' y2='1172.8' stroke='#000' stroke-width='1.4' />
<line x1='1107.2' y1='1168.8' x2='1107.2' y2='1172.8' stroke='#000' stroke-width='1.4' />
<line x1='1239' y1='1168.8' x2='1239' y2='1172.8' stroke='#000' stroke-width='1.4' />
<g clip-path='url(#clipD2)'>
<line x1='1046.8' y1='1064' x2='1046.8' y2='1079.8' stroke='#8a8a8a' stroke-width='1.4' />
<line x1='1041.3' y1='1064' x2='1052.3' y2='1064' stroke='#8a8a8a' stroke-width='1.4' />
<line x1='1041.3' y1='1079.8' x2='1052.3' y2='1079.8' stroke='#8a8a8a' stroke-width='1.4' />
<line x1='1064.9' y1='1068' x2='1064.9' y2='1085.4' stroke='#8a8a8a' stroke-width='1.4' />
<line x1='1059.4' y1='1068' x2='1070.4' y2='1068' stroke='#8a8a8a' stroke-width='1.4' />
<line x1='1059.4' y1='1085.4' x2='1070.4' y2='1085.4' stroke='#8a8a8a' stroke-width='1.4' />
<circle cx='857.8' cy='1062.8' r='6.4' fill='#d9dbdd' stroke='none' stroke-width='0' />
<circle cx='878.2' cy='1060.9' r='6.4' fill='#d9dbdd' stroke='none' stroke-width='0' />
<circle cx='899.5' cy='1055.2' r='6.4' fill='#d9dbdd' stroke='none' stroke-width='0' />
<circle cx='920.3' cy='1054.3' r='6.4' fill='#d9dbdd' stroke='none' stroke-width='0' />
<circle cx='941.8' cy='1053.8' r='6.4' fill='#d9dbdd' stroke='none' stroke-width='0' />
<circle cx='963' cy='1056.3' r='6.4' fill='#d9dbdd' stroke='none' stroke-width='0' />
<circle cx='983.7' cy='1057.4' r='6.4' fill='#d9dbdd' stroke='none' stroke-width='0' />
<circle cx='1004.5' cy='1058.7' r='6.4' fill='#d9dbdd' stroke='none' stroke-width='0' />
<circle cx='1025.5' cy='1063.1' r='6.4' fill='#d9dbdd' stroke='none' stroke-width='0' />
<circle cx='1046.8' cy='1071' r='6.4' fill='#d9dbdd' stroke='none' stroke-width='0' />
<circle cx='1064.9' cy='1075.8' r='6.4' fill='#d9dbdd' stroke='none' stroke-width='0' />
<circle cx='1088.2' cy='1080.1' r='6.4' fill='#d9dbdd' stroke='none' stroke-width='0' />
<circle cx='1107.4' cy='1082.7' r='6.4' fill='#d9dbdd' stroke='none' stroke-width='0' />
<circle cx='1127.4' cy='1086' r='6.4' fill='#d9dbdd' stroke='none' stroke-width='0' />
<circle cx='1147' cy='1090' r='6.4' fill='#d9dbdd' stroke='none' stroke-width='0' />
<circle cx='1166.1' cy='1095.4' r='6.4' fill='#d9dbdd' stroke='none' stroke-width='0' />
<circle cx='1184.4' cy='1101' r='6.4' fill='#d9dbdd' stroke='none' stroke-width='0' />
<circle cx='1202.4' cy='1105' r='6.4' fill='#d9dbdd' stroke='none' stroke-width='0' />
<circle cx='1219.8' cy='1109' r='6.4' fill='#d9dbdd' stroke='none' stroke-width='0' />
<circle cx='1235.8' cy='1112.5' r='6.4' fill='#d9dbdd' stroke='none' stroke-width='0' />
<circle cx='1250.9' cy='1115.4' r='6.4' fill='#d9dbdd' stroke='none' stroke-width='0' />
<polyline points='896.4,1063.7 915.5,1061.2 929.3,1054.7 941.8,1053.6 963,1054.6 983.7,1056.6 1004.5,1058.1 1025.5,1062.5 1046.8,1071 1064.9,1076.5 1088.2,1080.8 1107.4,1082.4 1127.4,1086.5 1147,1091.3 1166.1,1096.6 1184.4,1100.6 1202.4,1104.6 1219.8,1108.4 1237.5,1113.4' fill='none' stroke='#800000' stroke-width='3.8' stroke-linejoin='round' />
<circle cx='857.8' cy='1062.8' r='5.6' fill='none' stroke='#9a9a9a' stroke-width='1.1' />
<circle cx='857.8' cy='1062.8' r='6.8' fill='none' stroke='#000' stroke-width='1.2' />
<circle cx='878.2' cy='1060.9' r='5.6' fill='none' stroke='#9a9a9a' stroke-width='1.1' />
<circle cx='878.2' cy='1060.9' r='6.8' fill='none' stroke='#000' stroke-width='1.2' />
<circle cx='899.5' cy='1055.2' r='5.6' fill='none' stroke='#9a9a9a' stroke-width='1.1' />
<circle cx='899.5' cy='1055.2' r='6.8' fill='none' stroke='#000' stroke-width='1.2' />
<circle cx='920.3' cy='1054.3' r='5.6' fill='none' stroke='#9a9a9a' stroke-width='1.1' />
<circle cx='920.3' cy='1054.3' r='6.8' fill='none' stroke='#000' stroke-width='1.2' />
<circle cx='941.8' cy='1053.8' r='5.6' fill='none' stroke='#9a9a9a' stroke-width='1.1' />
<circle cx='941.8' cy='1053.8' r='6.8' fill='none' stroke='#000' stroke-width='1.2' />
<circle cx='963' cy='1056.3' r='5.6' fill='none' stroke='#9a9a9a' stroke-width='1.1' />
<circle cx='963' cy='1056.3' r='6.8' fill='none' stroke='#000' stroke-width='1.2' />
<circle cx='983.7' cy='1057.4' r='5.6' fill='none' stroke='#9a9a9a' stroke-width='1.1' />
<circle cx='983.7' cy='1057.4' r='6.8' fill='none' stroke='#000' stroke-width='1.2' />
<circle cx='1004.5' cy='1058.7' r='5.6' fill='none' stroke='#9a9a9a' stroke-width='1.1' />
<circle cx='1004.5' cy='1058.7' r='6.8' fill='none' stroke='#000' stroke-width='1.2' />
<circle cx='1025.5' cy='1063.1' r='5.6' fill='none' stroke='#9a9a9a' stroke-width='1.1' />
<circle cx='1025.5' cy='1063.1' r='6.8' fill='none' stroke='#000' stroke-width='1.2' />
<circle cx='1046.8' cy='1071' r='5.6' fill='none' stroke='#9a9a9a' stroke-width='1.1' />
<circle cx='1046.8' cy='1071' r='6.8' fill='none' stroke='#000' stroke-width='1.2' />
<circle cx='1064.9' cy='1075.8' r='5.6' fill='none' stroke='#9a9a9a' stroke-width='1.1' />
<circle cx='1064.9' cy='1075.8' r='6.8' fill='none' stroke='#000' stroke-width='1.2' />
<circle cx='1088.2' cy='1080.1' r='5.6' fill='none' stroke='#9a9a9a' stroke-width='1.1' />
<circle cx='1088.2' cy='1080.1' r='6.8' fill='none' stroke='#000' stroke-width='1.2' />
<circle cx='1107.4' cy='1082.7' r='5.6' fill='none' stroke='#9a9a9a' stroke-width='1.1' />
<circle cx='1107.4' cy='1082.7' r='6.8' fill='none' stroke='#000' stroke-width='1.2' />
<circle cx='1127.4' cy='1086' r='5.6' fill='none' stroke='#9a9a9a' stroke-width='1.1' />
<circle cx='1127.4' cy='1086' r='6.8' fill='none' stroke='#000' stroke-width='1.2' />
<circle cx='1147' cy='1090' r='5.6' fill='none' stroke='#9a9a9a' stroke-width='1.1' />
<circle cx='1147' cy='1090' r='6.8' fill='none' stroke='#000' stroke-width='1.2' />
<circle cx='1166.1' cy='1095.4' r='5.6' fill='none' stroke='#9a9a9a' stroke-width='1.1' />
<circle cx='1166.1' cy='1095.4' r='6.8' fill='none' stroke='#000' stroke-width='1.2' />
<circle cx='1184.4' cy='1101' r='5.6' fill='none' stroke='#9a9a9a' stroke-width='1.1' />
<circle cx='1184.4' cy='1101' r='6.8' fill='none' stroke='#000' stroke-width='1.2' />
<circle cx='1202.4' cy='1105' r='5.6' fill='none' stroke='#9a9a9a' stroke-width='1.1' />
<circle cx='1202.4' cy='1105' r='6.8' fill='none' stroke='#000' stroke-width='1.2' />
<circle cx='1219.8' cy='1109' r='5.6' fill='none' stroke='#9a9a9a' stroke-width='1.1' />
<circle cx='1219.8' cy='1109' r='6.8' fill='none' stroke='#000' stroke-width='1.2' />
<circle cx='1235.8' cy='1112.5' r='5.6' fill='none' stroke='#9a9a9a' stroke-width='1.1' />
<circle cx='1235.8' cy='1112.5' r='6.8' fill='none' stroke='#000' stroke-width='1.2' />
<circle cx='1250.9' cy='1115.4' r='5.6' fill='none' stroke='#9a9a9a' stroke-width='1.1' />
<circle cx='1250.9' cy='1115.4' r='6.8' fill='none' stroke='#000' stroke-width='1.2' />
</g>
<rect x='810.6' y='1008.8' width='508.4' height='160' fill='none' stroke='#000' stroke-width='1.4' />
<text transform='translate(817.90,1038.00) scale(1.0476,1)' font-family='Liberation Sans, sans-serif' font-size='30' style='' font-weight='normal' fill='#8c8c8c' >1 nm</text>
<text transform='translate(812.10,1197.20) scale(1.0982,1)' font-family='Liberation Sans, sans-serif' font-size='30' style='' font-weight='normal' fill='#000' >&#8722;0.4</text>
<text transform='translate(943.90,1197.20) scale(1.0982,1)' font-family='Liberation Sans, sans-serif' font-size='30' style='' font-weight='normal' fill='#000' >&#8722;0.2</text>
<text transform='translate(1086.41,1197.20) scale(0.9900,1)' font-family='Liberation Sans, sans-serif' font-size='30' style='' font-weight='normal' fill='#000' >0.0</text>
<text transform='translate(1218.18,1197.20) scale(1.0154,1)' font-family='Liberation Sans, sans-serif' font-size='30' style='' font-weight='normal' fill='#000' >0.2</text>
<text transform='translate(761.89,1228.30) scale(1.1094,1)' font-family='Liberation Sans, sans-serif' font-size='28' style='' font-weight='normal' fill='#000' >Oxygen chemical potential vs. 1 bar (eV)</text>
<text transform='translate(744.10,1088.78) rotate(-90) scale(1.0904,1)' font-family='Liberation Sans, sans-serif' font-size='29' style='' font-weight='normal' fill='#000' >Log C<tspan font-style='italic' font-size='20' dy='5'>chem</tspan><tspan dy='-5'>/V</tspan><tspan font-style='italic' font-size='20' dy='5'>film</tspan><tspan dy='-5'> (F&#183;cm</tspan><tspan font-size='20' dy='-11'>&#8722; 3</tspan><tspan dy='11'>)</tspan></text>
</g>
</svg></body></html>
